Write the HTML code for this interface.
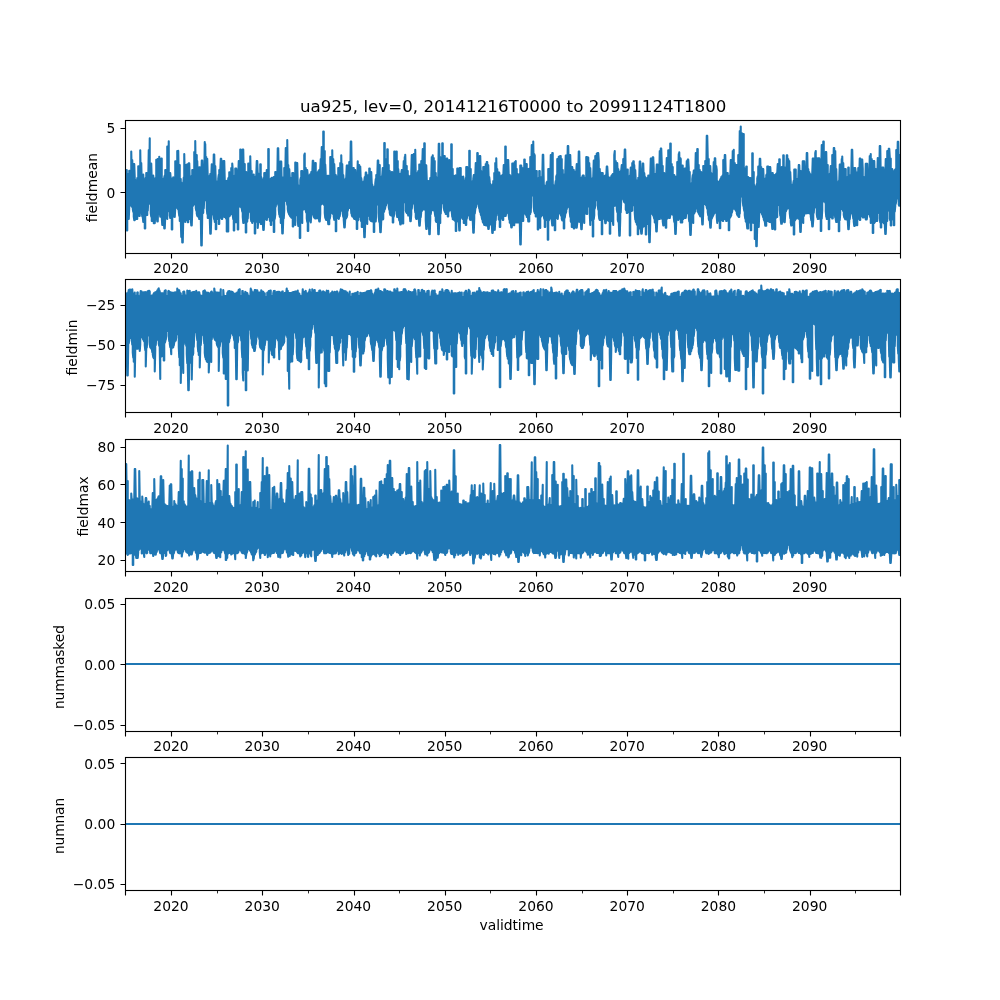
<!DOCTYPE html>
<html lang="en"><head><meta charset="utf-8"><title>ua925 field statistics</title>
<style>
html,body{margin:0;padding:0;background:#fff;}
body{width:1000px;height:1000px;overflow:hidden;}
svg{display:block;will-change:transform;}
svg text{font-family:"DejaVu Sans","Liberation Sans",sans-serif;fill:#000;}
.t{font-size:13.89px;}
.ti{font-size:16.67px;}
.ax{fill:none;stroke:#000;stroke-width:1.111;stroke-linejoin:miter;}
.tk{stroke:#000;stroke-width:1.111;fill:none;}
.tkm{stroke:#000;stroke-width:0.833;fill:none;}
.ln{fill:none;stroke:#1f77b4;stroke-width:2.083;stroke-linejoin:round;stroke-linecap:butt;}
</style></head>
<body>
<svg width="1000" height="1000" viewBox="0 0 1000 1000">
<rect width="1000" height="1000" fill="#fff"/>
<defs>
<clipPath id="c0"><rect x="125" y="120" width="775" height="132.76"/></clipPath>
<clipPath id="c1"><rect x="125" y="279.31" width="775" height="132.76"/></clipPath>
<clipPath id="c2"><rect x="125" y="438.62" width="775" height="132.76"/></clipPath>
<clipPath id="c3"><rect x="125" y="597.93" width="775" height="132.76"/></clipPath>
<clipPath id="c4"><rect x="125" y="757.24" width="775" height="132.76"/></clipPath>
</defs>
<g id="ax0">
<path class="ln" clip-path="url(#c0)" d="M125 218.26V173.7L125.75 173.68V217.74L126.25 218.33V173.89L126.75 170.04V230.46L127.25 230.46V173.97L127.75 174.09V217.54L128.25 217.25V174.66L128.75 174.88V218.96L129.25 207.58V170.84L129.75 170.84V205.79L130.25 204.77V175.45L130.75 175.69V205.57L131.25 205.68V151.54L131.75 175.71V205.77L132.25 207.28V160.04L132.75 176.69V208.73L133.25 211.83V176.47L133.75 164.04V216.5L134.25 220.16V164.04L134.75 177.72V220.16L135.25 216.22V179.88L135.75 181.35V215.67L136.25 218.96V181.65L136.75 181.11V218.96L137.25 218.96V178.03L137.75 178.98V215.39L138.25 215.22V166.24L138.75 166.24V215.15L139.25 215.96V180.27L139.75 180.67V215.96L140.25 203.7V150.24L140.75 182.46V204.69L141.25 206.62V163.04L141.75 182.76V211.33L142.25 216.37V183.29L142.75 184.63V216.56L143.25 221.96V174.54L143.75 185.14V215.64L144.25 215.92V185.79L144.75 185.13V228.46L145.25 228.46V179.94L145.75 177.79V215.15L146.25 215.28V173.04L146.75 173.04V214.47L147.25 214.96V178.39L147.75 178.98V210.79L148.25 201.55V178.72L148.75 150.04V195.28L149.25 195.37V179.43L149.75 138.24V195.72L150.25 204.16V180.29L150.75 180.12V213.06L151.25 216.51V163.54L151.75 180.54V220.96L152.25 220.96V180.89L152.75 181.96V216.84L153.25 216.63V175.54L153.75 181.54V223.16L154.25 223.16V181.39L154.75 181.12V223.16L155.25 215.89V178.48L155.75 177.76V216.33L156.25 215.76V159.84L156.75 159.84V216.46L157.25 221.46V178.32L157.75 159.04V221.46L158.25 200.74V177.96L158.75 178.12V201.09L159.25 204.77V156.84L159.75 178.47V211.85L160.25 216.75V178.69L160.75 178.68V216.57L161.25 216.85V158.54L161.75 158.54V216.93L162.25 224.96V178.97L162.75 179.59V224.96L163.25 216.12V179.02L163.75 178.97V216.75L164.25 228.46V177.3L164.75 175.64V228.46L165.25 216.75V170.04L165.75 170.04V216.61L166.25 216.69V176.37L166.75 176.94V215.26L167.25 218.96V146.54L167.75 178.12V210.18L168.25 209.41V178.11L168.75 141.24V210.49L169.25 211.37V178.7L169.75 178.76V215.58L170.25 218.05V173.04L170.75 179.09V217.65L171.25 218.07V179.81L171.75 179.19V229.46L172.25 229.46V178.71L172.75 178.05V217.05L173.25 216.2V177.2L173.75 177.59V215.75L174.25 212.28V178.52L174.75 178.41V216.96L175.25 208.48V161.24L175.75 161.24V207.97L176.25 207.14V178.63L176.75 179.57V206.99L177.25 207.29V151.04L177.75 179.79V208.53L178.25 209.5V150.74L178.75 180.23V211.69L179.25 216V180.14L179.75 165.04V220.96L180.25 218.76V181.07L180.75 179.04V218.52L181.25 236.96V182.42L181.75 185.95V218.8L182.25 242.46V186.15L182.75 186.19V242.46L183.25 218.73V183.93L183.75 177.6V218.07L184.25 218.16V154.04L184.75 177.66V212.04L185.25 221.96V178.58L185.75 165.04V212.75L186.25 214.11V178.99L186.75 178.62V218.54L187.25 220.56V164.24L187.75 178.6V222.16L188.25 222.16V179.31L188.75 163.24V219.21L189.25 219.08V163.24L189.75 179.89V218.7L190.25 218.24V180.32L190.75 179.91V217.71L191.25 225.46V178.12L191.75 175.76V225.46L192.25 210.68V170.04L192.75 170.04V206.2L193.25 204.7V175.93L193.75 176.43V204.24L194.25 203.79V152.04L194.75 176.65V204.28L195.25 204.87V141.04L195.75 176.97V208.01L196.25 210.55V177.26L196.75 155.04V213.44L197.25 215.83V161.04L197.75 177.79V216.44L198.25 216.24V177.9L198.75 178.71V215.91L199.25 218.96V167.24L199.75 167.24V218.96L200.25 214.46V179.82L200.75 178.69V214.41L201.25 245.46V178.73L201.75 160.54V245.46L202.25 213.76V160.54L202.75 178.34V213.3L203.25 212.71V178.9L203.75 178.27V208.36L204.25 198.88V178.55L204.75 142.04V196.61L205.25 196.98V144.04L205.75 179.18V197.04L206.25 200.57V157.04L206.75 177.95V208.06L207.25 213.83V158.84L207.75 178.04V217.96L208.25 217.96V178.11L208.75 178.07V217.54L209.25 217.8V177.04L209.75 175.74V217.9L210.25 233.76V174.04L210.75 177.11V233.76L211.25 218.31V176.67L211.75 164.24V214.88L212.25 211.06V179.11L212.75 178.31V210.24L213.25 210.71V178.58L213.75 154.54V216.56L214.25 219.63V154.54L214.75 180.34V221.96L215.25 219.66V166.04L215.75 181.24V229.16L216.25 229.16V181.42L216.75 182.17V219.17L217.25 218.86V181.59L217.75 181.57V218.71L218.25 218.48V178.56L218.75 174.87V223.96L219.25 223.96V170.04L219.75 172.88V217.86L220.25 217.72V171.38L220.75 158.84V217.45L221.25 216.75V158.84L221.75 169.75V218.96L222.25 218.96V161.04L222.75 168.88V206.17L223.25 206.9V168.14L223.75 161.04V211.64L224.25 216.96V161.04L224.75 179.69V216.96L225.25 216.51V181.03L225.75 181.39V217.87L226.25 218.62V181.14L226.75 180.99V231.46L227.25 231.46V180.67L227.75 180.39V231.46L228.25 231.46V178.66L228.75 177.5V216.87L229.25 215.21V172.24L229.75 172.24V215.95L230.25 214.09V176.85L230.75 176.93V214.43L231.25 213.06V168.04L231.75 176.38V212.87L232.25 212.74V163.54L232.75 170.04V215.26L233.25 219.17V175.93L233.75 176.1V230.46L234.25 230.46V176.02L234.75 175.65V222.18L235.25 221.46V168.54L235.75 168.54V222.17L236.25 222.11V168.54L236.75 175.2V221.64L237.25 220.91V175.36L237.75 175.56V229.46L238.25 229.46V175.07L238.75 161.04V207.06L239.25 206.39V175.68L239.75 174.89V205.74L240.25 205.67V149.54L240.75 149.54V206.55L241.25 207.69V175.75L241.75 175.18V208.58L242.25 211.5V174.84L242.75 149.54V216.88L243.25 222.96V149.54L243.75 174.48V222.96L244.25 219.61V174.37L244.75 164.04V219.55L245.25 220.74V174.41L245.75 174.53V232.46L246.25 232.46V172.04L246.75 174.96V221.98L247.25 221.39V174.77L247.75 175.15V218.68L248.25 209.25V163.54L248.75 163.54V206.86L249.25 205.95V176.76L249.75 176.66V206.7L250.25 212.45V156.24L250.75 178.24V217.8L251.25 221.04V178.24L251.75 171.04V220.81L252.25 222.96V179.97L252.75 179.54V221.12L253.25 220.86V180.09L253.75 174.54V221.26L254.25 220.63V181.13L254.75 180.56V233.46L255.25 233.46V179.98L255.75 176.58V221.06L256.25 221.68V176.1L256.75 161.04V221.3L257.25 221.48V161.04L257.75 174.5V227.96L258.25 220.67V173.85L258.75 173.72V221.26L259.25 221.94V174.39L259.75 174.82V222.03L260.25 222.03V164.24L260.75 164.24V223.96L261.25 223.96V177.04L261.75 181.7V219.99L262.25 220.69V182.82L262.75 182.96V221.08L263.25 229.96V182.05L263.75 178.02V229.96L264.25 219.69V173.04L264.75 173.04V219.53L265.25 219.19V173.04L265.75 177.98V218.71L266.25 218.92V178.69L266.75 170.04V219.96L267.25 217.48V179.27L267.75 178.62V215.95L268.25 215.5V149.04L268.75 149.04V216.3L269.25 217.39V178.88L269.75 179.46V219.85L270.25 221.52V179.29L270.75 179V224.96L271.25 224.96V178.24L271.75 177.84V220.74L272.25 220.16V177.91L272.75 179.48V220.09L273.25 219.93V178.96L273.75 177.04V231.96L274.25 231.96V179.57L274.75 180.27V218.76L275.25 214.56V172.04L275.75 172.04V206.58L276.25 201.52V181.66L276.75 182.65V200.76L277.25 200.18V182.19L277.75 148.24V200.84L278.25 204.81V148.24L278.75 184.36V209.43L279.25 214.71V184.45L279.75 184.32V216.85L280.25 216.3V161.54L280.75 161.54V222.96L281.25 216.89V161.54L281.75 186.37V216.95L282.25 233.46V186.25L282.75 180.85V233.46L283.25 218.12V177.35L283.75 177.44V218.41L284.25 210.32V168.04L284.75 178.12V201.42L285.25 200.35V177.19L285.75 148.04V200.03L286.25 199.92V177.05L286.75 177.45V200.14L287.25 204.87V140.04L287.75 177.46V209.19L288.25 212.14V165.04L288.75 177.5V213.47L289.25 214.4V169.04L289.75 177.08V215.11L290.25 216.19V177.73L290.75 177.99V216.56L291.25 217.38V178.16L291.75 178.48V217.82L292.25 218.26V173.04L292.75 173.04V226.46L293.25 226.46V173.04L293.75 180.99V219.24L294.25 220V181.05L294.75 182.42V220.38L295.25 224.96V162.54L295.75 162.54V211.93L296.25 211.12V183.01L296.75 163.04V212.24L297.25 215.58V163.04L297.75 185.04V220.56L298.25 225.96V185.27L298.75 186.33V221.37L299.25 221.64V186.23L299.75 185.76V237.96L300.25 237.96V179.9L300.75 177.92V220.18L301.25 219.56V171.04L301.75 171.04V218.56L302.25 222.96V171.04L302.75 177.16V209.89L303.25 209.63V177.03L303.75 176.45V209.12L304.25 208.49V155.04L304.75 153.54V208.67L305.25 209.39V176.92L305.75 168.04V210.82L306.25 212.67V176.05L306.75 176.08V218.42L307.25 221.75V170.04L307.75 175.86V230.96L308.25 230.96V175.72L308.75 175.62V220.94L309.25 220.59V175.43L309.75 175V219.86L310.25 219.21V174.2L310.75 174.13V222.46L311.25 215V172.04L311.75 174.53V213.9L312.25 213.74V174.36L312.75 160.84V214.18L313.25 214.78V160.84L313.75 174.16V216.37L314.25 217.75V173.46L314.75 174.3V217.45L315.25 218.46V163.04L315.75 163.04V218.46L316.25 218.27V173.92L316.75 173.51V218.22L317.25 217.47V172.71L317.75 172.47V218.25L318.25 218.12V171.51L318.75 170.95V218.1L319.25 221.46V169.94L319.75 169.9V221.46L320.25 214.13V168.53L320.75 159.04V204.99L321.25 203.45V167.24L321.75 147.04V204.13L322.25 203.15V166.51L322.75 165.13V203.42L323.25 203.12V131.54L323.75 131.54V203.83L324.25 205.21V164.2L324.75 151.04V212.91L325.25 217.88V164.54L325.75 175.9V218.82L326.25 219.96V176.14L326.75 176.13V219.96L327.25 218.55V176.78L327.75 175.78V218.59L328.25 224.16V175.69L328.75 176.14V224.16L329.25 224.16V175.97L329.75 176.12V218.84L330.25 216.14V157.04L330.75 157.04V213.63L331.25 212.81V177.43L331.75 176.86V212.62L332.25 212.79V150.24L332.75 177.16V212.9L333.25 214.39V159.04L333.75 178.1V216.86L334.25 219.83V164.04L334.75 177.9V219.22L335.25 219.67V178.68L335.75 175.04V231.16L336.25 231.16V178.86L336.75 178.53V218.26L337.25 217.2V176.9L337.75 176.1V217.71L338.25 217.16V168.04L338.75 168.04V218.96L339.25 216.64V168.04L339.75 178.19V216.22L340.25 210.95V163.04L340.75 179.82V210.24L341.25 209.37V155.34L341.75 180.63V210.11L342.25 210.95V164.04L342.75 182.33V213.49L343.25 216.78V175.04L343.75 182.87V219.83L344.25 227.46V183.81L344.75 183.02V227.46L345.25 218.79V181.4L345.75 178.63V218.61L346.25 218.22V177.45L346.75 165.54V217.31L347.25 215.05V165.54L347.75 165.54V210.94L348.25 208.08V176.88L348.75 177.49V207.58L349.25 207.92V162.04L349.75 176.96V202.62L350.25 202.16V176.96L350.75 141.54V203.06L351.25 213.08V141.54L351.75 176.93V215.01L352.25 216.4V175.83L352.75 175.84V216.57L353.25 217.05V168.04L353.75 168.04V217.76L354.25 218.96V176.15L354.75 170.04V218.96L355.25 218.77V170.04L355.75 181.24V218.98L356.25 219.97V180.99L356.75 180.77V228.96L357.25 228.96V178.1L357.75 161.24V220.57L358.25 219.87V177.96L358.75 178.56V216.68L359.25 216.25V165.04L359.75 179.02V216.38L360.25 216.95V166.54L360.75 180.17V219.74L361.25 221.41V178.04L361.75 182.21V226.96L362.25 226.96V183.15L362.75 183.57V222.04L363.25 221.65V184.09L363.75 181.44V221.59L364.25 237.16V181.66L364.75 177.04V237.16L365.25 221.6V182.37L365.75 172.54V221.08L366.25 221.19V172.54L366.75 182.25V220.68L367.25 223.96V181.92L367.75 182.54V214.24L368.25 213.27V175.04L368.75 182.25V213.36L369.25 216.1V168.54L369.75 168.54V219.57L370.25 219.79V183.19L370.75 182.76V220.85L371.25 221.14V172.04L371.75 183.47V220.71L372.25 221.31V184.59L372.75 188.26V221.38L373.25 221.3V188.75L373.75 188.88V231.96L374.25 231.96V188.35L374.75 186.28V221.34L375.25 221.44V183.4L375.75 179.01V221.4L376.25 212.63V175.04L376.75 177.31V198.79L377.25 198.2V177.46L377.75 160.54V198.31L378.25 205.03V160.54L378.75 178.45V217.15L379.25 222.01V178.27L379.75 165.04V221.64L380.25 232.16V178.1L380.75 177.63V232.16L381.25 220.75V177.41L381.75 176.34V219.1L382.25 219.51V175.54L382.75 168.04V219.52L383.25 218.96V174.97L383.75 175.62V212.17L384.25 210.88V143.04L384.75 143.04V209.38L385.25 207.61V174.17L385.75 159.04V205.8L386.25 204.57V174.39L386.75 174.27V202.82L387.25 202.26V149.24L387.75 149.24V202.17L388.25 203.01V173.92L388.75 165.04V207.08L389.25 209.93V173.24L389.75 171.04V212.84L390.25 215.04V173.39L390.75 172.64V214.96L391.25 215.56V172.94L391.75 172.04V215.25L392.25 215.35V172.04L392.75 173.1V222.46L393.25 222.46V174.22L393.75 173.61V216.56L394.25 213.2V151.54L394.75 151.54V208.5L395.25 208.26V173.73L395.75 173.97V208.75L396.25 210.83V151.54L396.75 151.54V214.39L397.25 216.96V174.3L397.75 161.04V216.96L398.25 216.17V169.04L398.75 174.94V217.02L399.25 220.29V174.94L399.75 174.25V219.58L400.25 224.46V174.2L400.75 173.6V224.46L401.25 219.51V173.65L401.75 170.04V219.19L402.25 219.14V170.04L402.75 173.68V223.46L403.25 223.46V173.74L403.75 161.04V197.55L404.25 196.85V174.23L404.75 157.04V197.48L405.25 202.71V154.84L405.75 174.37V210.38L406.25 212.33V174.92L406.75 166.04V213.04L407.25 213.29V175.22L407.75 171.04V212.84L408.25 215.46V175.2L408.75 176.15V215.46L409.25 213.28V178.04L409.75 178.82V213.58L410.25 221.16V178.3L410.75 175.69V221.16L411.25 214.54V173.44L411.75 155.04V208.97L412.25 204.02V155.04L412.75 155.04V202.77L413.25 202.7V174L413.75 154.04V203.25L414.25 203.77V174.59L414.75 174.4V207.24L415.25 212.39V149.84L415.75 174.69V217.14L416.25 218.96V175.13L416.75 174.89V218.96L417.25 217.12V174.6L417.75 172.67V218.13L418.25 218.45V171.19L418.75 170.65V218.01L419.25 225.66V164.54L419.75 164.54V225.66L420.25 218.58V168.03L420.75 167.68V217.19L421.25 211.99V161.04L421.75 161.04V211.23L422.25 209.24V165.24L422.75 149.04V208.83L423.25 209.37V164.18L423.75 163.76V208.79L424.25 209.37V143.24L424.75 143.24V209.62L425.25 209.41V176.64L425.75 165.24V220.55L426.25 228.96V165.24L426.75 179.5V228.96L427.25 220.09V180.8L427.75 180.8V219.14L428.25 219.39V181.22L428.75 182.2V219.26L429.25 234.16V181.26L429.75 180.45V234.16L430.25 219.07V178.04L430.75 180.09V214.09L431.25 210.21V179.93L431.75 157.04V210.42L432.25 209.99V179.26L432.75 155.24V209.59L433.25 209.82V179.1L433.75 158.04V210.43L434.25 210.8V178.75L434.75 161.04V212.48L435.25 216V178.84L435.75 173.04V220.7L436.25 221.96V178.15L436.75 177.77V220.16L437.25 219.49V178.01L437.75 177.28V219.32L438.25 234.16V176.73L438.75 143.84V234.16L439.25 219.27V143.84L439.75 175.66V218.45L440.25 222.96V157.04L440.75 175.26V213.72L441.25 203.52V174.65L441.75 174.03V202.33L442.25 201.61V143.24L442.75 143.24V202.25L443.25 203.79V173.15L443.75 172.47V207.39L444.25 210.32V156.04L444.75 156.04V211.56L445.25 212.66V171.33L445.75 171.24V213.96L446.25 213.96V172.03L446.75 158.54V212.49L447.25 212.87V158.54L447.75 172.31V216.46L448.25 216.46V172.82L448.75 173.33V211.58L449.25 208.81V160.04L449.75 173.47V207.8L450.25 208.89V174.03L450.75 174.18V209.63L451.25 211V144.24L451.75 144.24V211.73L452.25 216.87V175.03L452.75 169.04V219.18L453.25 218.88V175.74L453.75 176.07V219.66L454.25 219.55V175.98L454.75 176.33V220.42L455.25 220.95V175.67L455.75 175.34V230.96L456.25 230.96V175.23L456.75 175.45V219.75L457.25 218.97V168.54L457.75 168.54V219.09L458.25 221.52V168.54L458.75 176.45V220.56L459.25 230.46V176.78L459.75 168.04V230.46L460.25 208.73V168.04L460.75 168.04V208.53L461.25 209.23V176.64L461.75 177V215.75L462.25 218.32V177.28L462.75 176.96V218.88L463.25 218.92V176.54L463.75 190.66V222.96L464.25 222.96V190.36L464.75 189.79V218.33L465.25 217.88V182.57L465.75 178.11V224.96L466.25 224.96V167.04L466.75 167.04V218.69L467.25 216.12V167.04L467.75 178.78V211.79L468.25 211.65V178.74L468.75 179.29V212.07L469.25 215.51V150.74L469.75 150.74V218.72L470.25 219.96V179.87L470.75 169.04V216.96L471.25 216.13V181.91L471.75 182.67V217L472.25 220.41V182.98L472.75 180.98V219.63L473.25 232.66V178.84L473.75 175.04V232.66L474.25 218.76V176.63L474.75 177.22V213.59L475.25 209.52V176.55L475.75 163.04V207.97L476.25 206.15V176.07L476.75 176.04V203.71L477.25 203.27V153.04L477.75 153.04V203.64L478.25 203.83V175.67L478.75 175.79V205.39L479.25 208.49V175.29L479.75 156.04V210.93L480.25 212.54V156.04L480.75 174.67V214.08L481.25 215.55V171.04L481.75 174.46V217.56L482.25 219.7V174.81L482.75 175.24V221.81L483.25 222.54V167.04L483.75 167.04V222.82L484.25 224.96V167.04L484.75 176.59V224.96L485.25 222.87V177.6L485.75 164.04V222.58L486.25 225.46V178.58L486.75 162.04V225.46L487.25 222.94V162.04L487.75 180.3V222.78L488.25 228.96V165.04L488.75 181.11V228.96L489.25 221.49V177.04L489.75 181.77V221.24L490.25 221.77V183.79L490.75 185.57V224.51L491.25 223.86V186.47L491.75 186.37V222.61L492.25 232.96V186.14L492.75 184.26V232.96L493.25 222.4V181.04L493.75 182.72V222.32L494.25 222.25V173.04L494.75 181.49V229.96L495.25 220.8V163.04L495.75 180.85V220.09L496.25 208.97V158.34L496.75 179.7V206.65L497.25 206.73V169.04L497.75 178.81V206.89L498.25 215.41V178.83L498.75 172.54V219.46L499.25 219.89V172.54L499.75 177.18V226.96L500.25 226.96V176.81L500.75 176.59V218.75L501.25 217.71V176.48L501.75 175.54V217.39L502.25 216.95V175.54L502.75 176.93V219.96L503.25 219.96V176.65L503.75 165.04V216.06L504.25 215.79V176.49L504.75 176.45V214.74L505.25 215.96V146.54L505.75 146.54V215.96L506.25 211.59V176.27L506.75 176.7V210.81L507.25 211.67V160.04L507.75 160.04V211.93L508.25 213.73V160.04L508.75 176.25V215.3L509.25 219.67V176.33L509.75 175.04V222.8L510.25 222.35V176.15L510.75 176.16V222.67L511.25 227.46V176.11L511.75 176.67V227.46L512.25 222.61V163.54L512.75 163.54V222.35L513.25 222.24V163.54L513.75 176.36V225.16L514.25 225.16V176.66L514.75 162.04V222.84L515.25 222.4V176.53L515.75 161.04V222.56L516.25 222.58V176.64L516.75 169.04V222.58L517.25 222.44V177.03L517.75 174.04V221.98L518.25 221.87V176.72L518.75 176.44V222.45L519.25 221.76V175.48L519.75 174.08V221.32L520.25 244.46V165.54L520.75 165.54V244.46L521.25 219.48V165.54L521.75 170.64V219.72L522.25 218.86V168.04L522.75 170.3V220.96L523.25 220.96V168.46L523.75 167.88V213.96L524.25 213.16V159.54L524.75 159.54V212.55L525.25 213.67V167.19L525.75 164.04V214.72L526.25 214.02V164.04L526.75 164.04V216.96L527.25 216.96V168.74L527.75 169V214.08L528.25 221.46V170.07L528.75 169.01V221.46L529.25 221.46V168.78L529.75 168.63V213.94L530.25 213.98V157.04L530.75 157.04V212.31L531.25 200.33V169.39L531.75 145.04V190.98L532.25 190.7V169.59L532.75 169.94V190.93L533.25 195.92V141.54L533.75 170.7V206.84L534.25 211.53V154.04L534.75 155.54V213.01L535.25 213.57V171.94L535.75 174.97V216.46L536.25 216.46V171.04L536.75 171.04V213.36L537.25 214.37V180.31L537.75 180.26V229.46L538.25 229.46V179.68L538.75 177.8V215.24L539.25 215.46V171.04L539.75 171.04V215.91L540.25 227.96V178.1L540.75 177.11V216.48L541.25 216.5V178.14L541.75 179.12V215.39L542.25 213.65V180.49L542.75 154.74V213.81L543.25 214.61V154.74L543.75 183.57V215.84L544.25 218.95V185.34L544.75 186.79V226.96L545.25 226.96V187L545.75 186.43V218.94L546.25 219.83V186.17L546.75 182.19V219.44L547.25 219.63V181.58L547.75 182.31V239.66L548.25 239.66V169.04L548.75 169.04V220.41L549.25 219.57V169.04L549.75 183.39V217.15L550.25 216.69V184.27L550.75 155.04V217.07L551.25 218.76V184.15L551.75 184.24V220.11L552.25 225.46V153.04L552.75 153.04V225.46L553.25 219.11V184.97L553.75 187.68V219.33L554.25 218.27V186.73L554.75 186.87V230.26L555.25 230.26V185.04L555.75 180.94V218.21L556.25 217.68V176.6L556.75 175.18V217.02L557.25 216.71V159.04L557.75 159.04V218.96L558.25 213.55V175.13L558.75 156.84V212.82L559.25 212.44V156.84L559.75 174.87V213.13L560.25 213.42V156.04L560.75 156.04V214.39L561.25 215.99V174.62L561.75 159.04V218.9L562.25 220.41V174.97L562.75 170.04V219.34L563.25 219.68V174.84L563.75 175.28V228.46L564.25 228.46V174.79L564.75 174.35V217.94L565.25 214.45V172L565.75 155.54V213.04L566.25 211.62V155.54L566.75 171.73V209.01L567.25 205.99V171.22L567.75 146.04V205.55L568.25 204.86V146.04L568.75 171.43V205.6L569.25 207.81V171.41L569.75 155.04V211.85L570.25 216.8V155.04L570.75 172.27V221.23L571.25 222.15V172.57L571.75 167.04V226.96L572.25 226.96V167.04L572.75 171.74V222.56L573.25 222.57V171.62L573.75 170.04V228.46L574.25 228.46V172.34L574.75 171.59V222.68L575.25 222.83V171.79L575.75 171.89V222.79L576.25 227.76V172.14L576.75 164.04V227.76L577.25 222.94V173.34L577.75 174.8V221.55L578.25 221.2V174.87L578.75 151.54V221.13L579.25 221.78V151.54L579.75 176.45V221.42L580.25 219.8V177.47L580.75 178.25V220.27L581.25 229.26V178.87L581.75 178.13V229.26L582.25 218.34V176.91L582.75 175.54V217.49L583.25 217.07V175.54L583.75 175.54V215.94L584.25 222.96V177.49L584.75 178.16V214.02L585.25 213.24V178.32L585.75 179.4V212.9L586.25 213.11V157.04L586.75 157.04V213.96L587.25 213.96V179.04L587.75 157.54V204.28L588.25 202.86V157.54L588.75 179.68V203.47L589.25 206.86V163.04L589.75 179.62V212.64L590.25 224.96V168.04L590.75 180.98V219.96L591.25 220.23V181.64L591.75 181.32V219.57L592.25 219.15V181.42L592.75 177.98V236.46L593.25 236.46V176.81L593.75 160.54V219.21L594.25 215.16V175.91L594.75 176.18V208.55L595.25 205.35V156.04L595.75 156.04V200.2L596.25 199.24V175.35L596.75 153.54V200.04L597.25 200.48V153.54L597.75 153.04V205.34L598.25 209.51V153.04L598.75 161.04V214.2L599.25 218.94V172.83L599.75 169.04V219.96L600.25 219.96V172.26L600.75 173.41V218.82L601.25 218.94V173.62L601.75 173.04V234.26L602.25 234.26V173.04L602.75 173.04V218.53L603.25 218.71V176.29L603.75 177.2V218.62L604.25 218.38V176.68L604.75 175.88V218.37L605.25 223.26V175.55L605.75 176.33V223.26L606.25 217.47V176.28L606.75 166.54V218.95L607.25 218.54V166.54L607.75 175.04V220.41L608.25 220.62V177.46L608.75 177.34V220.95L609.25 220.69V177.7L609.75 177.99V233.76L610.25 233.76V178.87L610.75 178.22V219.74L611.25 220.75V176.54L611.75 175.45V220.96L612.25 220.54V175.43L612.75 174.04V220.83L613.25 224.96V174.04L613.75 174.62V206.2L614.25 205.89V155.04L614.75 151.04V204.56L615.25 203.38V174.72L615.75 161.04V205.39L616.25 205.94V174.29L616.75 173.94V209.22L617.25 211.95V163.04L617.75 173.73V219.75L618.25 221.85V169.04L618.75 173.69V221.26L619.25 235.76V173.86L619.75 172.76V235.76L620.25 219.09V172.28L620.75 171.13V212.53L621.25 199.9V170.39L621.75 165.04V198.35L622.25 197.9V165.04L622.75 167.4V198.5L623.25 199.18V159.04L623.75 164.47V200.56L624.25 202.17V164.78L624.75 149.54V202.56L625.25 203.03V149.54L625.75 174.09V209.49L626.25 210.46V175.05L626.75 176.24V212.96L627.25 212.96V169.54L627.75 169.54V212.35L628.25 212.26V179.54L628.75 179.17V212.31L629.25 211.54V178.12L629.75 175.78V235.46L630.25 235.46V175.94L630.75 167.54V210.73L631.25 210.84V167.54L631.75 177.38V210.96L632.25 210.68V163.04L632.75 177.93V204.34L633.25 203.55V161.24L633.75 161.24V204.31L634.25 205.77V165.04L634.75 179.17V213.18L635.25 219.75V170.04L635.75 180.39V221.74L636.25 222.32V180.3L636.75 181.42V223.99L637.25 224.98V180.78L637.75 180.24V234.16L638.25 234.16V177.83L638.75 178.85V227.03L639.25 228.32V177.85L639.75 161.54V228.03L640.25 228.66V161.54L640.75 177.57V228.15L641.25 233.76V177.88L641.75 177.91V233.76L642.25 227.2V178.14L642.75 163.54V227.19L643.25 226.57V163.54L643.75 178.25V225.69L644.25 226.26V173.04L644.75 178.74V225.24L645.25 225.54V177.04L645.75 178.71V234.46L646.25 234.46V179.37L646.75 178.86V224.27L647.25 223.87V178.5L647.75 177.47V222.78L648.25 222.76V175.54L648.75 175.54V222L649.25 242.16V177.17L649.75 177.33V242.16L650.25 221.38V176.56L650.75 158.54V214.09L651.25 213.55V158.54L651.75 176.55V212.87L652.25 213.9V176.55L652.75 157.24V214.13L653.25 215.69V157.24L653.75 169.04V216.63L654.25 218.87V177.16L654.75 174.04V222.42L655.25 221.81V177.08L655.75 177.26V221.3L656.25 231.46V176.44L656.75 164.54V231.46L657.25 219.65V164.54L657.75 164.54V219.5L658.25 218.55V175.92L658.75 176.25V218.43L659.25 218.96V176.47L659.75 151.04V218.96L660.25 216V175.36L660.75 148.54V216.37L661.25 217.39V148.54L661.75 163.04V217.7L662.25 219.03V175.66L662.75 166.04V221.53L663.25 225.46V175.18L663.75 174.39V225.46L664.25 221.07V173.04L664.75 175.19V220.79L665.25 219.42V174.38L665.75 174.5V227.76L666.25 227.76V174.4L666.75 158.04V218.36L667.25 218.54V175.97L667.75 175.04V217.18L668.25 217.35V150.24L668.75 150.24V217.15L669.25 217.96V176.02L669.75 176.55V217.96L670.25 215.44V143.54L670.75 143.54V213.98L671.25 214.09V176.19L671.75 164.04V213.76L672.25 214.13V175.99L672.75 167.04V214.38L673.25 215.08V176.57L673.75 177.41V217.09L674.25 221.97V175.04L674.75 177.51V220.64L675.25 233.96V177.13L675.75 177.79V233.96L676.25 220.63V176.65L676.75 176.77V219.95L677.25 219.68V162.04L677.75 162.04V219.29L678.25 219.96V176.71L678.75 154.04V218.64L679.25 218.77V152.34L679.75 177.01V218.67L680.25 218.92V158.04L680.75 159.04V222.46L681.25 222.46V176.57L681.75 176.9V222.46L682.25 222.46V165.54L682.75 165.54V218.58L683.25 218.92V176.66L683.75 176.89V218.38L684.25 217.33V177.29L684.75 168.54V215.81L685.25 217.96V168.54L685.75 168.54V217.96L686.25 213.43V178.69L686.75 161.04V212.34L687.25 211.41V179.31L687.75 159.54V211.66L688.25 213.68V159.54L688.75 168.04V217.66L689.25 221.41V180.92L689.75 172.04V221.09L690.25 234.96V188.37L690.75 188.19V234.96L691.25 220.95V187.07L691.75 183.16V220.25L692.25 219.72V179.19L692.75 175.07V218.81L693.25 222.96V176.38L693.75 170.54V213.16L694.25 213.32V170.54L694.75 170.54V211.98L695.25 211.65V174.68L695.75 153.04V208.44L696.25 207.82V174.14L696.75 173.86V208.37L697.25 208.91V149.04L697.75 149.04V211.07L698.25 212.5V173.82L698.75 165.04V213.66L699.25 214.22V173.24L699.75 170.04V215.21L700.25 216.3V172.93L700.75 173.43V215.62L701.25 215.34V172.04L701.75 173.22V214.92L702.25 224.46V173.65L702.75 173.28V224.46L703.25 210.1V166.04L703.75 166.04V204.41L704.25 203.77V166.04L704.75 174.07V203.7L705.25 204.11V161.04L705.75 174.9V204.32L706.25 205.64V175.08L706.75 135.84V207.36L707.25 208.9V135.84L707.75 158.04V211.99L708.25 215.39V175.85L708.75 159.04V218.99L709.25 220.41V176.18L709.75 176.69V219.58L710.25 227.66V166.04L710.75 177.49V227.66L711.25 218.17V173.04L711.75 178.17V218.46L712.25 217.39V178.26L712.75 178.06V216.27L713.25 215.44V176.84L713.75 162.04V214.01L714.25 213.39V176.96L714.75 158.24V211.19L715.25 210.4V158.24L715.75 178.29V212.05L716.25 212.91V166.04L716.75 170.04V216.96L717.25 222.96V180.93L717.75 182.4V220.54L718.25 220.7V182.68L718.75 182.94V220.61L719.25 220.29V182.13L719.75 180.84V228.16L720.25 228.16V179.36L720.75 178.83V220.48L721.25 219.62V177.04L721.75 177.34V218.74L722.25 217.31V176.18L722.75 175.25V220.96L723.25 220.96V160.04L723.75 160.04V214.33L724.25 213.72V173.48L724.75 155.04V218.96L725.25 214.8V155.04L725.75 174.57V218.15L726.25 220.96V175L726.75 176.89V220.96L727.25 218.71V173.04L727.75 173.04V218.89L728.25 218.95V180.34L728.75 179.88V230.16L729.25 230.16V178.88L729.75 175.6V217.8L730.25 217.45V175.72L730.75 160.04V216.32L731.25 215.31V160.04L731.75 160.04V212.99L732.25 211.02V175.37L732.75 151.04V209.35L733.25 208.48V176.45L733.75 149.74V207.44L734.25 208.32V176.02L734.75 163.04V207.88L735.25 209.59V176.25L735.75 176V209.3L736.25 211.3V165.04L736.75 165.04V213.31L737.25 215.05V176.27L737.75 176.08V215.67L738.25 215.12V155.04L738.75 155.04V216.96L739.25 216.96V176.24L739.75 131.04V213.76L740.25 201.9V176.72L740.75 126.54V196.81L741.25 195.5V177.55L741.75 133.04V195.3L742.25 195.87V176.48L742.75 177.34V200.42L743.25 205.78V134.04L743.75 134.04V208.09L744.25 210.8V168.04L744.75 177.34V215.12L745.25 218.54V178.22L745.75 177.12V221.6L746.25 222.07V166.54L746.75 166.54V222.96L747.25 228.46V176.99L747.75 177.04V228.46L748.25 228.46V177.16L748.75 178.06V222.42L749.25 222.33V178.04L749.75 178.04V222.24L750.25 222.4V178.07L750.75 178.17V230.16L751.25 230.16V178.91L751.75 180.03V222.86L752.25 222.77V153.24L752.75 153.24V222.48L753.25 222.36V183.1L753.75 172.04V222.95L754.25 222.77V185.06L754.75 188.96V238.96L755.25 221.99V189.5L755.75 189.6V222.28L756.25 246.16V188.78L756.75 183.99V246.16L757.25 222.43V178.39L757.75 176.2V222.83L758.25 222.85V166.54L758.75 166.54V226.96L759.25 212.72V176.56L759.75 158.84V212.28L760.25 211.21V158.84L760.75 177.95V211.9L761.25 211.79V167.04L761.75 177.93V213.27L762.25 214.67V169.04L762.75 169.04V215.74L763.25 217.4V169.04L763.75 181.53V219.28L764.25 220.74V182.83L764.75 183.06V220.9L765.25 225.66V182.88L765.75 178.2V225.66L766.25 225.66V175.2L766.75 174.31V220.02L767.25 220.29V166.54L767.75 166.54V220.88L768.25 220.55V166.54L768.75 174.2V220.4L769.25 221.96V167.04L769.75 167.04V221.96L770.25 219.27V167.04L770.75 175.08V219.72L771.25 222.42V174.98L771.75 175.05V221.54L772.25 228.96V173.04L772.75 173.04V228.96L773.25 220.51V175.86L773.75 175.36V219.98L774.25 219.18V175.04L774.75 175.71V229.46L775.25 229.46V175.66L775.75 174.61V218.2L776.25 214.53V173.73L776.75 173.36V210.5L777.25 216.96V172.85L777.75 164.04V205.43L778.25 204.64V164.04L778.75 171.28V204.53L779.25 204.54V159.34L779.75 159.34V209.65L780.25 215.6V170.23L780.75 169.75V219.54L781.25 223.76V169.32L781.75 167.04V223.76L782.25 220.35V168.26L782.75 167.77V220.05L783.25 218.93V155.34L783.75 155.34V218.45L784.25 222.16V167.51L784.75 167.58V222.16L785.25 213.22V168.13L785.75 169.4V211.7L786.25 210.42V171.48L786.75 155.34V209.27L787.25 208.18V155.34L787.75 174.33V207.45L788.25 206.68V159.04L788.75 176.69V207.35L789.25 208.97V161.04L789.75 178.94V213.08L790.25 218.19V172.04L790.75 181.98V222.5L791.25 225.46V184.45L791.75 186.23V225.46L792.25 221.57V186.44L792.75 186.3V221.49L793.25 221.08V183.49L793.75 180.79V234.46L794.25 234.46V169.54L794.75 169.54V220.65L795.25 219.99V169.54L795.75 169.54V219.13L796.25 217.86V180.15L796.75 180.43V217.7L797.25 217.41V178.89L797.75 178.95V217.6L798.25 218.67V178.79L798.75 165.04V218.78L799.25 218.34V165.04L799.75 178.41V218.29L800.25 231.96V177.87L800.75 171.04V231.96L801.25 218.94V183.41L801.75 182.48V218.75L802.25 218.93V182.35L802.75 161.24V218.77L803.25 222.96V161.24L803.75 161.24V216.13L804.25 214.6V161.24L804.75 177.45V214.02L805.25 212.49V177.12L805.75 176.95V213.29L806.25 212.99V177.17L806.75 153.04V213.34L807.25 213.16V153.04L807.75 176.8V212.55L808.25 212.88V169.04L808.75 176.67V212.98L809.25 213.3V172.04L809.75 176.62V213.52L810.25 213.41V174.04L810.75 177.33V216.4L811.25 220.22V176.68L811.75 174.97V220.07L812.25 226.46V173.43L812.75 158.54V226.46L813.25 219.32V158.54L813.75 158.54V212.84L814.25 205.87V172.09L814.75 171.57V205.26L815.25 204.64V153.04L815.75 151.04V204.78L816.25 207.86V170.34L816.75 158.04V214.06L817.25 217.33V169.35L817.75 169.13V218.96L818.25 218.96V158.24L818.75 158.24V218.77L819.25 218.46V158.24L819.75 168.05V218.42L820.25 218.88V167.93L820.75 167.04V230.96L821.25 230.96V166.46L821.75 145.04V218.68L822.25 210V165.39L822.75 164.82V201.87L823.25 200.98V141.54L823.75 141.54V200.67L824.25 200.06V163.12L824.75 166.53V200.63L825.25 202.8V168.18L825.75 152.04V211.26L826.25 216.94V152.04L826.75 173.72V218.95L827.25 218.91V174.54L827.75 165.04V218.64L828.25 217.97V176.51L828.75 176.44V229.16L829.25 229.16V175.66L829.75 173.87V217.26L830.25 216.53V174.52L830.75 166.04V216.36L831.25 217.15V166.04L831.75 176.66V216.1L832.25 218.46V155.04L832.75 177.86V218.46L833.25 205.2V179.27L833.75 148.04V205.72L834.25 206.88V148.04L834.75 180.48V213.92L835.25 217.7V151.04L835.75 182.27V219.23L836.25 221.96V169.04L836.75 186.78V221.96L837.25 219.19V187.58L837.75 186.93V219.95L838.25 220.22V186.16L838.75 181.04V231.16L839.25 231.16V180.68L839.75 164.54V220.11L840.25 213.15V164.54L840.75 180.17V209.3L841.25 208.14V179.94L841.75 159.04V208.29L842.25 208.8V156.54L842.75 179.2V209.6L843.25 211.17V163.04L843.75 179.53V214.7L844.25 217.39V179.03L844.75 169.04V218.34L845.25 219.23V169.04L845.75 169.04V218.96L846.25 219.45V177.7L846.75 177.65V219.17L847.25 218.89V177.25L847.75 176.85V220.19L848.25 229.16V167.54L848.75 167.54V229.16L849.25 220.41V175.76L849.75 175.54V219.12L850.25 214.4V175.19L850.75 175.12V213.47L851.25 213.23V175.06L851.75 149.74V212.53L852.25 212.56V149.74L852.75 174.39V213.85L853.25 218.67V173.89L853.75 173.47V221.66L854.25 225.96V168.04L854.75 168.04V225.96L855.25 221.1V168.04L855.75 172.76V220.67L856.25 220.1V172.46L856.75 172.61V225.16L857.25 225.16V173.31L857.75 174.59V219.15L858.25 218.47V168.04L858.75 175.48V218.02L859.25 217.32V176.13L859.75 158.54V219.96L860.25 219.96V158.54L860.75 178.58V208.2L861.25 211.24V179.44L861.75 159.54V216L862.25 216.31V159.54L862.75 169.04V217.46L863.25 217.46V181.49L863.75 177.04V217.46L864.25 216.44V184.84L864.75 184.75V216.78L865.25 216.65V184.89L865.75 163.84V219.46L866.25 219.46V163.84L866.75 163.84V219.46L867.25 215.48V163.84L867.75 180.4V213.77L868.25 213.98V180.44L868.75 180.13V213.1L869.25 213.32V180.08L869.75 156.04V214.46L870.25 217.04V179.36L870.75 154.04V222.96L871.25 222.11V179.03L871.75 159.04V222L872.25 222.58V178.54L872.75 178.98V232.96L873.25 232.96V161.04L873.75 161.04V222.55L874.25 222.85V161.04L874.75 177.78V222.27L875.25 221.15V177.73L875.75 169.04V219.99L876.25 219.88V178.85L876.75 178.72V220.96L877.25 220.96V178.26L877.75 158.04V210.87L878.25 209.98V175.7L878.75 175.44V211.15L879.25 213.31V176.11L879.75 146.04V218.48L880.25 222.33V146.04L880.75 176.17V227.46L881.25 227.46V176.25L881.75 176.08V222.12L882.25 221.85V167.54L882.75 167.54V221.5L883.25 222.08V167.54L883.75 177.37V223.32L884.25 223.43V176.98L884.75 176.48V222.83L885.25 233.96V176.38L885.75 159.04V233.96L886.25 220.64V175.57L886.75 175.58V220.18L887.25 220.96V151.04L887.75 175.05V204.8L888.25 204.59V174.78L888.75 148.74V204.74L889.25 210.8V148.74L889.75 157.04V218.75L890.25 220.44V174.17L890.75 158.54V225.46L891.25 225.46V173.09L891.75 172.71V218.76L892.25 218.27V169.04L892.75 173.01V218.97L893.25 219.75V174.33L893.75 173.12V225.16L894.25 225.16V172.5L894.75 170.04V211.69L895.25 206.29V169.58L895.75 168.92V203.73L896.25 201.1V150.04L896.75 167.91V197.33L897.25 197.42V166.46L897.75 141.84V197.65L898.25 198.74V141.84L898.75 164.15V204.56L899.25 205.78V163.35L900 155.04V205.96"/>
<path class="tk" d="M125.5 253.5v5M171.5 253.5v5M262.5 253.5v5M354.5 253.5v5M445.5 253.5v5M536.5 253.5v5M627.5 253.5v5M718.5 253.5v5M810.5 253.5v5M900.5 253.5v5M125.5 128.5h-5M125.5 192.5h-5"/>
<path class="tkm" d="M217.5 253.5v2.92M308.5 253.5v2.92M399.5 253.5v2.92M490.5 253.5v2.92M582.5 253.5v2.92M673.5 253.5v2.92M764.5 253.5v2.92M855.5 253.5v2.92"/>
<text class="t" text-anchor="middle" x="171.03" y="273">2020</text>
<text class="t" text-anchor="middle" x="262.26" y="273">2030</text>
<text class="t" text-anchor="middle" x="353.5" y="273">2040</text>
<text class="t" text-anchor="middle" x="444.74" y="273">2050</text>
<text class="t" text-anchor="middle" x="535.98" y="273">2060</text>
<text class="t" text-anchor="middle" x="627.22" y="273">2070</text>
<text class="t" text-anchor="middle" x="718.46" y="273">2080</text>
<text class="t" text-anchor="middle" x="809.7" y="273">2090</text>
<text class="t" text-anchor="end" x="115.28" y="133">5</text>
<text class="t" text-anchor="end" x="115.28" y="198">0</text>
<text class="t" text-anchor="middle" transform="translate(96.6 187.62) rotate(-90)">fieldmean</text>
<rect class="ax" x="125.5" y="120.5" width="775" height="133"/>
</g>
<g id="ax1">
<path class="ln" clip-path="url(#c1)" d="M125 356.06V293.35L125.75 293.25V354.87L126.25 351.85V293.59L126.75 293.47V351.26L127.25 375.46V293.15L127.75 293.02V375.46L128.25 344.84V292.87L128.75 289.99V343.38L129.25 340.46V289.82L129.75 289.65V338.34L130.25 337V289.48L130.75 290.36V336.18L131.25 335.71V290.17L131.75 289.97V338.34L132.25 344.73V289.19L132.75 295.51V352.44L133.25 357.71V295.51L133.75 295.51V361.71L134.25 356.84V295.51L134.75 292.65V376.76L135.25 351.07V295.57L135.75 295.57V348.98L136.25 348.54V295.57L136.75 295.57V348.79L137.25 348.81V292.7L137.75 292.33V348.8L138.25 348.41V295.76L138.75 296.8V347.44L139.25 345.63V296.8L139.75 296.8V350.96L140.25 344.34V295.69L140.75 290.95V337.27L141.25 335.9V291.77L141.75 291.58V335.42L142.25 335.76V294.06L142.75 293.78V338.61L143.25 339.66V293.7L143.75 292.45V340.77L144.25 341.53V292.35L144.75 292.23V345.04L145.25 350.03V292.11L145.75 292.54V366.46L146.25 348.8V292.4L146.75 292.25V347.63L147.25 341.77V291.88L147.75 291.27V335.05L148.25 334.91V291.1L148.75 290.92V335.51L149.25 335.63V290.74L149.75 291.8V344.26L150.25 347.34V295.98L150.75 295.98V347.16L151.25 348.62V295.98L151.75 295.5V348.47L152.25 352.16V295.5L152.75 295.5V354.01L153.25 357.14V295.5L153.75 293.39V358.27L154.25 355.49V293.27L154.75 293.13V371.46L155.25 350.64V292.33L155.75 292.19V345.27L156.25 337.61V292.03L156.75 291.86V335.47L157.25 335.75V290.41L157.75 290.23V336.18L158.25 340.45V289.19L158.75 288.44V343.77L159.25 346V290.2L159.75 291.68V349.53L160.25 378.96V292.9L160.75 293.55V353.01L161.25 354.43V293.46L161.75 293.36V356.45L162.25 354.85V293.23L162.75 293.6V352.92L163.25 350.48V293.45L163.75 293.28V360.46L164.25 360.46V293.1L164.75 290.72V343.02L165.25 341.34V290.52L165.75 290.31V339.98L166.25 335.34V295.76L166.75 295.76V331.04L167.25 330.39V295.76L167.75 295.76V329.67L168.25 331.21V291.08L168.75 290.82V336.7L169.25 341.16V293.87L169.75 292.26V343.51L170.25 347.02V292.22L170.75 292.18V346.72L171.25 354.16V292.98L171.75 292.92V347.8L172.25 347.14V292.86L172.75 292.79V347.61L173.25 347.36V293.75L173.75 293.67V345.71L174.25 342.3V292.59L174.75 292.51V341.42L175.25 340.48V292.41L175.75 292.32V340.47L176.25 337.4V292.87L176.75 292.86V332.92L177.25 332.53V288.44L177.75 292.64V332.43L178.25 334.7V292.52L178.75 290.34V346.91L179.25 357.42V290.27L179.75 293.54V365.21L180.25 363.11V293.44L180.75 293.32V382.96L181.25 359.43V295.48L181.75 295.48V356.79L182.25 354.82V295.48L182.75 295.48V351.84L183.25 372.96V291.97L183.75 291.62V344.3L184.25 339.96V291.43L184.75 295.59V339.29L185.25 339.74V295.59L185.75 295.59V340.52L186.25 345.89V295.59L186.75 295.59V353.93L187.25 363.16V290.55L187.75 293.41V363.6L188.25 390.16V292.33L188.75 291.04V390.16L189.25 362.56V290.93L189.75 290.81V362.94L190.25 361.96V293.14L190.75 292.99V360.03L191.25 357.58V292.83L191.75 292.53V379.46L192.25 355.35V292.35L192.75 292.16V355.11L193.25 353.28V292.22L193.75 292.01V346.91L194.25 334.37V291.79L194.75 296.67V330.62L195.25 329.84V296.67L195.75 296.67V330.53L196.25 332.75V290.86L196.75 293.85V335.01L197.25 340.03V293.8L197.75 292.5V346.17L198.25 351.78V292.4L198.75 292.29V354.92L199.25 352.93V292.17L199.75 295.63V367.46L200.25 348.76V295.63L200.75 295.63V345.12L201.25 339.1V295.82L201.75 295.82V335.3L202.25 332.4V295.82L202.75 295.82V330.81L203.25 332.02V291.1L203.75 290.89V334.24L204.25 343.55V290.68L204.75 290.45V352.83L205.25 357.13V291.38L205.75 294.08V358.91L206.25 359.7V292.59L206.75 292.96V361.24L207.25 361.87V292.9L207.75 292.82V361.71L208.25 361.07V292.73L208.75 293.37V372.46L209.25 361.32V295.78L209.75 295.78V360.13L210.25 357.46V295.78L210.75 292.67V354.08L211.25 361.96V291.76L211.75 291.62V339.5L212.25 333.39V292.85L212.75 296.5V331.2L213.25 333.08V296.5L213.75 296.5V335.64L214.25 337.98V288.44L214.75 292.04V339.38L215.25 340.01V294.16L215.75 292.2V338.69L216.25 341.06V292.92L216.75 292.8V343.49L217.25 345.42V292.66L217.75 292.96V346.38L218.25 347.11V292.79L218.75 292.61V370.96L219.25 347.35V296.06L219.75 296.06V346.29L220.25 342.03V296.06L220.75 289.19V338.76L221.25 338.04V296.45L221.75 296.45V337.81L222.25 341.55V296.45L222.75 296.45V352.83L223.25 357.52V289.99L223.75 295.95V373.46L224.25 373.46V295.95L224.75 295.95V357.62L225.25 355.48V296.02L225.75 296.02V378.96L226.25 378.96V296.02L226.75 296.02V350.39L227.25 348.55V293.2L227.75 292.24V405.46L228.25 405.46V291.38L228.75 291.3V342.73L229.25 341V291.22L229.75 291.14V338.67L230.25 336.28V293.08L230.75 292.99V333.48L231.25 333.03V292.9L231.75 291.61V332.13L232.25 332.86V293.05L232.75 292.19V334.58L233.25 335.55V293.39L233.75 293.33V336.8L234.25 340.26V296.68L234.75 296.68V347.94L235.25 347.19V296.68L235.75 293.48V345.89L236.25 379.16V293.33L236.75 293.17V379.16L237.25 343.14V292.43L237.75 292.25V342.7L238.25 339.34V292.06L238.75 289.7V335.74L239.25 332.6V289.5L239.75 289.28V332.26L240.25 331.62V295.9L240.75 295.9V333.55L241.25 340.64V295.9L241.75 295.9V347.87L242.25 357.53V290.99L242.75 290.95V372.2L243.25 380.46V293.87L243.75 293.79V370.2L244.25 366.62V293.69L244.75 293.59V364.38L245.25 361.61V291.75L245.75 293.12V390.16L246.25 390.16V292.98L246.75 292.83V354.09L247.25 349.94V293L247.75 295.56V370.46L248.25 339.44V295.56L248.75 297.02V330.12L249.25 327.92V297.02L249.75 297.02V327.97L250.25 328.88V297.02L250.75 288.44V333.19L251.25 338.9V289.68L251.75 292.28V343.19L252.25 345.57V292.25L252.75 292.22V347.58L253.25 348.04V293.38L253.75 293.33V347.92L254.25 350.96V293.27L254.75 290.07V350.96L255.25 347.65V290L255.75 290.54V344.35L256.25 340.52V290.46L256.75 290.38V337.41L257.25 332.95V290.3L257.75 292.97V333.1L258.25 333.9V292.88L258.75 292.79V333.69L259.25 338.8V292.55L259.75 292.45V344.28L260.25 347.41V292.35L260.75 293.59V347.31L261.25 348.7V290.32L261.75 291.98V349.14L262.25 349.55V291.91L262.75 291.83V374.46L263.25 349.95V291.74L263.75 293.62V350.21L264.25 347.48V293.52L264.75 293.41V345.46L265.25 341.64V296.72L265.75 296.72V339.28L266.25 339.46V296.72L266.75 296.72V339.2L267.25 339.56V292.67L267.75 292.52V339.83L268.25 339.71V292.37L268.75 291.18V362.46L269.25 340.31V291.02L269.75 292.91V339.64L270.25 340.38V290.64L270.75 290.59V344.34L271.25 350.91V295.89L271.75 295.89V353.56L272.25 354.96V295.89L272.75 295.89V354.97L273.25 354.49V293.18L273.75 291.14V357.46L274.25 357.46V291.02L274.75 290.89V347.69L275.25 339.07V292.96L275.75 292.82V338.29L276.25 338.06V292.68L276.75 292.04V337.97L277.25 338.67V292.09L277.75 291.93V338.75L278.25 340.8V291.76L278.75 293.72V341.48L279.25 359.16V291.78L279.75 294V346.78L280.25 348.64V293.95L280.75 292.69V349.26L281.25 346.99V292.62L281.75 292.55V346.14L282.25 344.38V291.5L282.75 291.41V344.88L283.25 343.97V296.7L283.75 296.7V343.06L284.25 341.71V296.7L284.75 293.04V336.03L285.25 329.49V292.93L285.75 292.81V329.37L286.25 328.99V292.69L286.75 288.44V332.82L287.25 337.03V290.94L287.75 290.81V370.96L288.25 366.73V292.67L288.75 293.01V365.43L289.25 388.76V292.93L289.75 293.71V362.79L290.25 360.74V293.13L290.75 293.01V359.22L291.25 361.46V292.88L291.75 292.74V361.46L292.25 361.46V292.45L292.75 292.29V354.75L293.25 345.56V292.12L293.75 292.13V332.81L294.25 331.54V291.94L294.75 291.75V331.77L295.25 331.15V291.55L295.75 291.76V330.43L296.25 338.08V291.55L296.75 291.33V351.85L297.25 358.45V293.97L297.75 290.56V359.96L298.25 359.96V293.61L298.75 293.54V359.77L299.25 360.96V293.45L299.75 295.68V359.02L300.25 360.02V296L300.75 296V362.16L301.25 360.41V296.99L301.75 296.99V350.05L302.25 339.9V296.99L302.75 289.22V337.96L303.25 336.61V292.13L303.75 291.98V336.11L304.25 334.33V291.81L304.75 291.64V335.14L305.25 337.35V292.23L305.75 290.94V341.96L306.25 346.6V293.07L306.75 294.06V351.69L307.25 358.23V293.98L307.75 293.88V358.09L308.25 356.25V293.47L308.75 292.25V369.26L309.25 369.26V292.12L309.75 289.68V350.99L310.25 345.23V292.16L310.75 296.5V337.21L311.25 332.74V296.5L311.75 296.5V329.43L312.25 326.23V289.19L312.75 291.85V323.87L313.25 323.62V291.64L313.75 291.42V324.01L314.25 324.39V290.24L314.75 290.01V327.83L315.25 332.92V292.72L315.75 292.69V348.72L316.25 362.96V293.64L316.75 293.58V362.96L317.25 356.5V292.77L317.75 292.68V356.31L318.25 354.45V292.58L318.75 293.23V387.46L319.25 353.08V290.75L319.75 290.63V353.1L320.25 352.41V290.5L320.75 292.79V351.26L321.25 352.46V295.59L321.75 295.59V352.46L322.25 338.19V295.59L322.75 291.5V337.83L323.25 338.17V291.35L323.75 291.74V345.26L324.25 350.85V292.06L324.75 294.12V383.46L325.25 383.46V294.09L325.75 294.05V386.16L326.25 386.16V292.71L326.75 290.67V361.08L327.25 362.29V291.92L327.75 291.85V361.9L328.25 370.96V290.88L328.75 295.99V370.96L329.25 370.96V295.99L329.75 295.99V352.59L330.25 335.88V295.99L330.75 293.39V335.13L331.25 334.55V293.3L331.75 293.2V334.91L332.25 335.18V291.49L332.75 292.15V335.27L333.25 335.04V295.77L333.75 295.77V338.4L334.25 344.43V295.77L334.75 291.9V347.4L335.25 349.35V293.87L335.75 293.76V350.35L336.25 362.96V293.63L336.75 291.61V362.96L337.25 362.96V291.46L337.75 295.98V350.63L338.25 350.61V295.98L338.75 295.98V349.4L339.25 345.21V295.98L339.75 292.41V343.17L340.25 342.08V292.21L340.75 289.33V337.08L341.25 336.54V290.92L341.75 290.69V335.51L342.25 338.16V289.84L342.75 292.6V349.37L343.25 365.46V290.76L343.75 290.69V351.46L344.25 351.78V291.59L344.75 291.47V352.13L345.25 350.75V291.35L345.75 291.21V359.96L346.25 349.38V292.96L346.75 292.74V347.76L347.25 336.52V292.57L347.75 296.35V333.81L348.25 333.22V296.35L348.75 296.35V334.06L349.25 333.13V296.35L349.75 291.58V333.95L350.25 333.96V296.66L350.75 296.66V334.91L351.25 335.57V296.66L351.75 296.66V337.41L352.25 349.66V293.86L352.75 293.92V356.68L353.25 357.01V293.88L353.75 293.83V371.76L354.25 371.76V293.77L354.75 293.42V357.54L355.25 356.64V293.35L355.75 293.27V351.78L356.25 344.14V292.89L356.75 292.81V336.97L357.25 335.8V293.19L357.75 291.93V335.73L358.25 336.01V295.77L358.75 295.77V339.17L359.25 348.02V295.77L359.75 295.77V352.03L360.25 365.46V292.84L360.75 292.72V365.46L361.25 353.34V294.08L361.75 294.03V353.55L362.25 353.45V293.33L362.75 293.25V353.46L363.25 353.46V293.16L363.75 293V351.69L364.25 346.7V292.89L364.75 292.77V340.59L365.25 337.06V292.97L365.75 292.83V336.31L366.25 336.16V292.69L366.75 291.48V336.17L367.25 334.91V291.32L367.75 291.16V332.6L368.25 332.97V291.39L368.75 291.22V332.18L369.25 332.21V291.15L369.75 290.97V334.18L370.25 336.64V293.16L370.75 290.42V341.57L371.25 344.47V290.36L371.75 293.78V346.86L372.25 350.14V293.69L372.75 296.56V351.12L373.25 360.96V296.56L373.75 296.56V360.96L374.25 348.8V296.56L374.75 293.08V345.98L375.25 340.82V292.94L375.75 289.72V340.01L376.25 339.03V289.57L376.75 291.56V338.5L377.25 339.54V291.4L377.75 291.23V340.1L378.25 342.39V288.64L378.75 291.49V343.96L379.25 347.3V291.27L379.75 291.21V355.88L380.25 376.76V291.12L380.75 291.01V376.76L381.25 351.44V291.99L381.75 292.24V350.63L382.25 347.74V292.08L382.75 296.92V346.39L383.25 345.96V296.92L383.75 296.92V345.96L384.25 338.33V289.19L384.75 289.83V337.2L385.25 337.25V289.61L385.75 296.21V337.37L386.25 338.06V296.21L386.75 296.21V338.95L387.25 344.92V291.03L387.75 291.05V357.57L388.25 377.46V294.2L388.75 294.16V377.46L389.25 361.86V292.14L389.75 291.55V383.46L390.25 360.53V291.45L390.75 293.61V360.47L391.25 376.96V293.49L391.75 292.62V376.96L392.25 348.59V292.48L392.75 296.49V330.71L393.25 330.08V296.49L393.75 296.49V329.57L394.25 329.11V289.19L394.75 289.19V330.42L395.25 331.03V292.07L395.75 290.88V331.04L396.25 340.08V290.68L396.75 295.87V359.24L397.25 359.12V288.44L397.75 295.87V366.96L398.25 359.03V292.79L398.75 292.62V359.31L399.25 369.26V292.55L399.75 292.47V360.71L400.25 356.34V292.38L400.75 292.2V344.51L401.25 336.53V292.09L401.75 291.99V333.93L402.25 330.01V292.2L402.75 292.07V328L403.25 326.71V291.94L403.75 289.22V326.2L404.25 324.07V289.19L404.75 289.19V323.98L405.25 324.51V289.19L405.75 291.24V330.46L406.25 343.29V291.08L406.75 293.57V349.05L407.25 378.96V293.5L407.75 293.41V378.96L408.25 355.03V293.3L408.75 291.17V379.46L409.25 357.38V292.55L409.75 292.39V359.54L410.25 356.65V292.22L410.75 292.04V354.31L411.25 361.96V292.81L411.75 292.6V346.36L412.25 340.72V292.39L412.75 292.19V337.91L413.25 336.03V291.95L413.75 291.71V337.43L414.25 337.26V289.58L414.75 289.32V338.97L415.25 339.56V290.18L415.75 293.33V346.96L416.25 357.37V296.34L416.75 296.34V358.06L417.25 373.76V296.34L417.75 296.34V356.75L418.25 356.69V290.05L418.75 289.96V356.55L419.25 356.56V292.26L419.75 293V356.46L420.25 356.46V293.06L420.75 292.94V331.69L421.25 331.32V293.13L421.75 289.99V330.72L422.25 330.93V289.85L422.75 291.4V332.75L423.25 335.28V291.25L423.75 291.1V337.65L424.25 348.3V290.94L424.75 294.14V367.96L425.25 357.82V294.1L425.75 293.92V368.96L426.25 368.96V293.83L426.75 293.72V356.94L427.25 357.76V291.23L427.75 291.09V356.8L428.25 357.2V290.95L428.75 290.79V358.46L429.25 358.46V296.43L429.75 296.43V331.25L430.25 329.91V296.81L430.75 296.81V330.44L431.25 330.17V296.81L431.75 291.88V329.99L432.25 330.37V290.42L432.75 291.68V330.98L433.25 331.56V291.45L433.75 291.21V337.05L434.25 348.33V290.52L434.75 290.48V348.79L435.25 363.46V294.08L435.75 294.02V363.46L436.25 363.46V296.9L436.75 296.9V348.91L437.25 348.7V296.9L437.75 295.48V332.09L438.25 332.37V296.01L438.75 296.01V332.04L439.25 332.15V296.01L439.75 291.75V333.96L440.25 338.07V291.64L440.75 292.51V341.69L441.25 345.94V292.39L441.75 292.27V348.87L442.25 350.12V289.19L442.75 292V350.49L443.25 350.74V293.6L443.75 293.38V354.96L444.25 351.05V293.33L444.75 293.27V350.14L445.25 350.82V291.01L445.75 290.26V350.91L446.25 350.09V290.18L446.75 290.09V359.46L447.25 359.46V289.99L447.75 290.56V351.33L448.25 350.07V290.46L448.75 292.71V351.79L449.25 351.96V292.6L449.75 296.91V344.27L450.25 344.19V296.91L450.75 296.91V342.73L451.25 344.08V296.91L451.75 290.86V355.26L452.25 356.23V293.54L452.75 293.51V356.49L453.25 356.65V293.47L453.75 293.42V393.46L454.25 393.46V293.47L454.75 293.4V357.95L455.25 355.66V293.33L455.75 293.34V366.96L456.25 366.96V293.55L456.75 293.46V343.63L457.25 333.19V293.36L457.75 293.41V331.2L458.25 331.02V293.31L458.75 293.2V331.41L459.25 331.25V292.7L459.75 292.35V332.95L460.25 333.85V296.02L460.75 296.02V337.56L461.25 340.21V296.02L461.75 292.62V343.49L462.25 345.96V296.85L462.75 296.85V343.67L463.25 340.3V296.85L463.75 296.85V339.15L464.25 340.62V292.73L464.75 292.44V356.77L465.25 358.85V292.27L465.75 290.92V373.46L466.25 373.46V290.73L466.75 296.47V334.08L467.25 326.7V296.47L467.75 296.47V326.23L468.25 324.52V296.47L468.75 289.73V325.36L469.25 326.05V291.39L469.75 291.14V327.38L470.25 328.49V295.55L470.75 296.16V341.14L471.25 355.87V296.16L471.75 296.16V373.76L472.25 356.63V296.16L472.75 292.74V356.24L473.25 355.59V293.5L473.75 293.42V356.73L474.25 356.49V292.59L474.75 293.38V357.96L475.25 356.67V296.3L475.75 296.3V349.51L476.25 334.52V296.3L476.75 291.64V328.02L477.25 328.07V291.73L477.75 291.61V328.83L478.25 336.94V291.49L478.75 291.36V349.16L479.25 361.96V288.04L479.75 294.15V352.91L480.25 354.63V290.32L480.75 293.02V354.02L481.25 354.69V292.95L481.75 292.88V354.6L482.25 358.09V292.8L482.75 293.14V369.46L483.25 358.44V293.05L483.75 291.99V349.89L484.25 339.6V292.71L484.75 292.6V338.62L485.25 337.3V292.48L485.75 292.85V335.56L486.25 334.43V292.73L486.75 292.59V332.71L487.25 332.51V292.38L487.75 292.24V333.43L488.25 334.2V296.83L488.75 296.83V337.71L489.25 340.88V296.83L489.75 292.92V345.25L490.25 348.27V295.9L490.75 295.9V350.96L491.25 351.18V295.9L491.75 290.81V353.96L492.25 353.96V290.72L492.75 290.63V349.8L493.25 355.96V290.53L493.75 292.41V348.58L494.25 344.84V292.3L494.75 292.19V343.04L495.25 341.36V292.07L495.75 296.72V335.54L496.25 334.79V296.72L496.75 296.72V334.01L497.25 335.37V292.05L497.75 293.62V349.96L498.25 347.11V290.32L498.75 294V347.23L499.25 346.48V293.9L499.75 293.79V387.16L500.25 387.16V292.69L500.75 292.55V346.03L501.25 340.79V292.39L501.75 292.23V339.76L502.25 339.39V296.85L502.75 296.85V338.72L503.25 338.51V296.85L503.75 289.63V337.72L504.25 339.4V289.41L504.75 289.19V339.83L505.25 340.98V289.19L505.75 290.99V344.53L506.25 347.48V290.75L506.75 289.19V351.18L507.25 356.34V295.56L507.75 295.56V358.73L508.25 358.26V295.56L508.75 293.7V363.46L509.25 358.59V293.6L509.75 293.49V358.8L510.25 378.96V293.62L510.75 293.5V378.96L511.25 358.63V293.36L511.75 291.6V338.37L512.25 337.72V291.45L512.75 291.29V337.43L513.25 336.63V291.13L513.75 296.71V337.33L514.25 337.03V296.71L514.75 296.71V334.56L515.25 333.85V296.71L515.75 291.09V333.7L516.25 333.75V296.95L516.75 296.95V336.8L517.25 357.63V296.95L517.75 293.63V369.96L518.25 369.96V293.56L518.75 293.49V356.76L519.25 355.47V293.41L519.75 292.8V355.63L520.25 353.78V292.71L520.75 292.61V354.46L521.25 354.46V296.99L521.75 296.99V339.89L522.25 331.63V296.99L522.75 296.99V330.39L523.25 330.27V292.45L523.75 292.33V329.45L524.25 329.36V295.93L524.75 295.93V329.4L525.25 330.02V295.93L525.75 293.31V342.06L526.25 352.25V292.73L526.75 292.08V358.01L527.25 358.45V291.95L527.75 291.81V358L528.25 358.58V291.65L528.75 292.84V375.16L529.25 375.16V296.62L529.75 296.62V356.86L530.25 358.01V296.62L530.75 291.95V357.49L531.25 362.96V291.83L531.75 291.59V362.96L532.25 362.96V291.35L532.75 291.1V356.85L533.25 357.05V290.33L533.75 290.07V357.37L534.25 384.16V293.21L534.75 294.15V384.16L535.25 355.94V293.36L535.75 293.02V357.23L536.25 357.02V293.5L536.75 293.37V357.2L537.25 358.96V293.22L537.75 290.04V358.96L538.25 358.96V291.81L538.75 296.6V334.84L539.25 334.72V296.6L539.75 296.6V333.45L540.25 334.76V290.68L540.75 289.19V336.87L541.25 337.23V296.92L541.75 296.92V339.27L542.25 341.84V296.92L542.75 296.92V343.91L543.25 346.29V289.19L543.75 290.35V347.54L544.25 348.48V292.46L544.75 292.4V349.57L545.25 349.87V292.33L545.75 290.1V349.24L546.25 370.16V290.01L546.75 292.86V370.16L547.25 348.64V291.39L547.75 291.28V342.8L548.25 337.12V295.84L548.75 295.84V336.14L549.25 335.92V295.84L549.75 292.82V335.3L550.25 336.3V292.34L550.75 292.19V336.27L551.25 336.1V287.44L551.75 289.8V339.08L552.25 343.33V292.18L552.75 294.06V347.01L553.25 352.57V294.02L553.75 293.96V358.93L554.25 363.82V293.03L554.75 292.95V363.38L555.25 362.78V292.87L555.75 292.77V378.46L556.25 378.46V292.74L556.75 292.63V356.31L557.25 339.53V293.12L557.75 296.15V334.53L558.25 331.1V296.15L558.75 296.15V329.26L559.25 330.76V291.85L559.75 295.48V330.35L560.25 336.76V295.48L560.75 295.48V340.86L561.25 345.93V295.48L561.75 293.44V351.66L562.25 353.93V295.53L562.75 296.74V353.83L563.25 373.26V296.74L563.75 296.74V373.26L564.25 353.76V296.74L564.75 293.25V353.8L565.25 351.32V291.86L565.75 293.59V353.96L566.25 353.96V290.71L566.75 290.62V346.06L567.25 343.31V290.53L567.75 290.44V343.93L568.25 343.26V293.12L568.75 293.02V345.99L569.25 350.34V292.91L569.75 295.9V356.5L570.25 359.9V295.9L570.75 295.9V361.47L571.25 363.58V295.9L571.75 292.94V364.1L572.25 365.14V292.89L572.75 291.57V364.84L573.25 363.83V291.51L573.75 291.95V362.17L574.25 373.96V296.89L574.75 296.89V373.96L575.25 354.21V296.89L575.75 293.23V344.5L576.25 336.57V293.14L576.75 289.78V331.23L577.25 327.99V289.68L577.75 296.01V327.61L578.25 328.2V296.01L578.75 296.01V328.37L579.25 328.84V292.77L579.75 291.04V329.51L580.25 333.89V293.44L580.75 290.27V345.52L581.25 346.69V290.18L581.75 290.08V347.96L582.25 347.96V289.96L582.75 292.63V347.96L583.25 346.21V296.24L583.75 296.24V345.52L584.25 338.19V296.24L584.75 296.24V336.97L585.25 335.73V292.35L585.75 292.16V335.07L586.25 334.76V291.96L586.75 291.04V334.06L587.25 333.04V290.82L587.75 290.6V332.62L588.25 332.73V289.19L588.75 289.19V333.54L589.25 334.87V294.13L589.75 294.06V337.65L590.25 344.99V293.97L590.75 293.81V359.96L591.25 352.14V293.69L591.75 293.42V353.35L592.25 352.91V293.27L592.75 293.1V352.2L593.25 353.36V292.93L593.75 292.33V354.93L594.25 356.16V292.14L594.75 291.93V356.16L595.25 350.95V291.72L595.75 290.21V350.57L596.25 349.02V289.98L596.75 289.74V350.42L597.25 355.26V290.95L597.75 290.69V359.09L598.25 359.44V293.46L598.75 293.4V386.16L599.25 386.16V293.41L599.75 296.86V358.95L600.25 359.41V296.86L600.75 296.86V360.09L601.25 360.17V295.44L601.75 295.44V368.46L602.25 368.46V295.44L602.75 292.94V345.6L603.25 341.84V292.77L603.75 290.38V338.47L604.25 336.28V290.19L604.75 291.65V333.69L605.25 334.07V291.44L605.75 291.23V334.52L606.25 334.98V289.86L606.75 295.76V339.2L607.25 344.32V295.76L607.75 295.76V346.02L608.25 346.47V295.76L608.75 291.04V345.99L609.25 347.06V293.67L609.75 292.98V353.39L610.25 379.96V292.9L610.75 292.81V379.96L611.25 350.46V292.71L611.75 293.19V336.19L612.25 335.76V293.09L612.75 292.97V336.54L613.25 337.53V291.24L613.75 291.11V339.06L614.25 341.16V290.99L614.75 291.36V344L615.25 346.65V291.22L615.75 291.08V351.96L616.25 348.41V290.93L616.75 293.65V347.05L617.25 346.95V293.99L617.75 292.27V346.33L618.25 346.07V292.15L618.75 292.02V350.3L619.25 351.69V291.24L619.75 291.08V354.16L620.25 354.16V290.85L620.75 290.67V346.02L621.25 336.76V290.48L621.75 290.28V332.76L622.25 327.95V289.19L622.75 289.19V328.68L623.25 328.38V292.02L623.75 291.78V329.94L624.25 335.96V288.44L624.75 290.37V358.46L625.25 358.96V290.81L625.75 293.95V358.68L626.25 357.3V293.92L626.75 291.34V358.7L627.25 358.65V291.28L627.75 293.81V372.96L628.25 372.96V293.67L628.75 293.58V358.85L629.25 358.68V293.49L629.75 292.49V358.52L630.25 358.76V292.39L630.75 292.28V362.46L631.25 362.46V296.88L631.75 296.88V362.46L632.25 357.93V296.88L632.75 296.88V335.2L633.25 332.81V292.07L633.75 291.93V335.22L634.25 335.22V296.53L634.75 296.53V338.71L635.25 341V296.53L635.75 290.28V341.84L636.25 347.66V291.42L636.75 293.74V358.05L637.25 358.17V291.14L637.75 291.05V379.76L638.25 379.76V291.26L638.75 291.16V349.9L639.25 339.75V291.06L639.75 291.5V337.97L640.25 338.1V296.76L640.75 296.76V337.44L641.25 336.82V296.76L641.75 296.76V335.46L642.25 334.95V291.82L642.75 289.34V335.76L643.25 335.72V292.23L643.75 293.93V336.95L644.25 336.8V294.12L644.75 294.05V337.96L645.25 337.72V293.97L645.75 290.06V341.87L646.25 348.59V289.94L646.75 291.3V347.93L647.25 363.96V292.75L647.75 292.6V363.96L648.25 348.94V292.44L648.75 290.7V347.23L649.25 344.12V290.53L649.75 290.34V338.24L650.25 332.09V290.15L650.75 290.96V327.65L651.25 327.12V291.06L651.75 290.85V327.54L652.25 331.88V289.82L652.75 289.59V336.77L653.25 340.81V292.35L653.75 292.31V346.84L654.25 350.96V296.92L654.75 296.92V356.67L655.25 357.99V296.92L655.75 296.92V358.65L656.25 358.8V292.44L656.75 295.71V367.46L657.25 367.46V295.71L657.75 295.71V331.83L658.25 331.74V295.71L658.75 290.43V330.13L659.25 331.33V290.31L659.75 291.04V332.56L660.25 335.17V290.91L660.75 290.78V337.51L661.25 339.26V289.98L661.75 287.44V342.96L662.25 349.48V293.66L662.75 296.8V356.06L663.25 358.54V296.8L663.75 296.8V379.16L664.25 379.16V296.13L664.75 293.27V357.4L665.25 358.37V292.84L665.75 296.71V358.75L666.25 369.96V296.71L666.75 296.71V369.96L667.25 348.17V295.95L667.75 296.72V335.07L668.25 330.7V296.72L668.75 296.72V324.5L669.25 325.7V296.72L669.75 296.65V325.75L670.25 331.02V296.65L670.75 296.65V337.01L671.25 347.28V294.01L671.75 293.88V358L672.25 371.46V293.82L672.75 293.76V371.46L673.25 371.46V293.42L673.75 293.08V357.91L674.25 356.23V292.98L674.75 292.88V330.81L675.25 328.55V293L675.75 292.89V328.4L676.25 326.89V292.85L676.75 292.63V327.4L677.25 328.99V292.5L677.75 291.88V330.1L678.25 330.23V291.73L678.75 291.59V332.82L679.25 339.13V296.73L679.75 296.73V345.14L680.25 350.33V296.97L680.75 296.97V352.95L681.25 358.93V296.97L681.75 293.96V358.03L682.25 381.16V293.04L682.75 292.9V381.16L683.25 358.35V292.55L683.75 292.39V354.95L684.25 332.58V293.17L684.75 290.9V367.96L685.25 330.1V290.71L685.75 290.5V330.49L686.25 330.69V291.87L686.75 291.65V332.44L687.25 333.18V291.42L687.75 291.45V339.05L688.25 347.81V291.2L688.75 290.95V350.89L689.25 354.16V290.69L689.75 290.85V354.16L690.25 354.16V295.99L690.75 295.99V351.67L691.25 350.92V295.99L691.75 291.55V348.97L692.25 347.61V291.38L692.75 291.22V345.18L693.25 340.51V289.78L693.75 289.59V336.19L694.25 331.54V292.58L694.75 291.41V328.17L695.25 327.75V296.56L695.75 296.56V326.88L696.25 326.6V296.56L696.75 296.56V327.1L697.25 330.73V296.38L697.75 289.19V338.04L698.25 346.75V289.19L698.75 291.92V351.89L699.25 354.58V291.87L699.75 293.62V356.57L700.25 358.23V293.53L700.75 293.43V358.3L701.25 370.16V293.31L701.75 292.42V370.16L702.25 357.45V292.29L702.75 290.57V342.38L703.25 341.6V290.6L703.75 290.43V340.48L704.25 340.06V290.27L704.75 291.57V338.81L705.25 338.85V296.35L705.75 296.35V338.17L706.25 341.49V296.35L706.75 296.35V346.62L707.25 354.39V291.04L707.75 293.64V358.64L708.25 358.43V294.13L708.75 294.04V386.16L709.25 386.16V293.93L709.75 293.8V358.23L710.25 358.87V293.17L710.75 296.71V358.74L711.25 372.96V296.71L711.75 296.71V352.8L712.25 348.68V296.74L712.75 296.74V342.95L713.25 339.68V296.74L713.75 296.55V338.23L714.25 337.82V296.55L714.75 296.55V336.96L715.25 336.72V290.97L715.75 290.71V337.76L716.25 341.36V290.45L716.75 294.06V348.01L717.25 352.63V295.8L717.75 296.84V353.46L718.25 353.46V296.84L718.75 296.84V352.87L719.25 352.6V296.84L719.75 291.53V356.05L720.25 357.75V291.4L720.75 291.25V373.46L721.25 373.46V290.98L721.75 291.66V339.38L722.25 333.84V291.49L722.75 291.31V333.4L723.25 334.1V290.89L723.75 290.69V335.35L724.25 338.11V290.49L724.75 290.28V368.96L725.25 358.35V291.35L725.75 291.13V357.57L726.25 376.46V293.84L726.75 293.49V376.46L727.25 376.46V293.43L727.75 293.36V358.33L728.25 358.03V293.6L728.75 293.51V358.05L729.25 381.16V293.41L729.75 291.34V381.16L730.25 357.62V291.23L730.75 291.11V346.91L731.25 334.89V289.43L731.75 296.75V334.73L732.25 332.55V296.75L732.75 296.75V331.02L733.25 330.27V296.75L733.75 291.61V331.11L734.25 340.64V291.46L734.75 290.73V358.23L735.25 369.96V296.73L735.75 296.73V369.96L736.25 369.96V296.73L736.75 296.73V358.91L737.25 358.68V293.57L737.75 290.33V357.9L738.25 370.66V290.24L738.75 290.14V370.66L739.25 370.66V292.64L739.75 292.53V350.32L740.25 340.74V292.42L740.75 291.27V340.39L741.25 341.5V296.78L741.75 296.78V346.36L742.25 351.87V296.78L742.75 295.84V353.35L743.25 354.38V295.84L743.75 296.85V355.96L744.25 355.96V296.85L744.75 296.85V355.62L745.25 356.13V296.85L745.75 291.51V389.16L746.25 389.16V291.39L746.75 291.26V356.89L747.25 357.58V293.37L747.75 293.21V366.96L748.25 345.64V293.21L748.75 293.03V330.51L749.25 330.23V292.85L749.75 292.01V330.42L750.25 331.69V291.8L750.75 291.73V333.19L751.25 335.77V291.08L751.75 290.85V340.49L752.25 350.48V290.61L752.75 290.37V356.87L753.25 387.46V292.34L753.75 292.31V387.46L754.25 354.96V292.27L754.75 292.22V353.58L755.25 353.62V293.8L755.75 293.74V352.78L756.25 361.46V293.66L756.75 296.8V361.46L757.25 350.2V296.8L757.75 296.8V348.58L758.25 341.63V296.8L758.75 290.47V335.42L759.25 334.94V290.37L759.75 290.26V335.33L760.25 336.5V290.15L760.75 292.62V342.06L761.25 346.17V285.64L761.75 292.38V353.49L762.25 357.67V290.63L762.75 293.42V393.46L763.25 393.46V293.35L763.75 291.42V357.94L764.25 357.79V291.32L764.75 291.2V356.89L765.25 367.96V291.06L765.75 291.5V354.88L766.25 349.63V292.85L766.75 290V342.25L767.25 338.08V289.83L767.75 289.64V335.56L768.25 332.85V290.66L768.75 290.46V332.97L769.25 332.11V291.92L769.75 291.71V332.66L770.25 333.89V291.48L770.75 289.19V334.24L771.25 337.06V289.19L771.75 290.35V341.87L772.25 348.94V293.56L772.75 293.49V351.22L773.25 358.96V290.14L773.75 292.67V358.96L774.25 351.07V292.79L774.75 292.67V339.57L775.25 337.05V292.54L775.75 292.4V335.46L776.25 334.82V289.39L776.75 289.23V333.3L777.25 332.54V295.89L777.75 295.89V333.32L778.25 334.31V295.89L778.75 292.23V337.34L779.25 342.29V292.01L779.75 291.81V346.1L780.25 348.05V291.61L780.75 294.02V348.01L781.25 348.37V293.9L781.75 292.88V350.1L782.25 355.51V292.83L782.75 293.33V358.81L783.25 358.19V293.27L783.75 293.21V379.16L784.25 379.16V296.22L784.75 296.22V358.56L785.25 358.65V296.29L785.75 296.29V368.96L786.25 339.02V296.29L786.75 296.29V338.49L787.25 338.43V292.02L787.75 292.81V338.96L788.25 351.74V292.71L788.75 292.61V358.28L789.25 363.46V289.19L789.75 292.92V363.46L790.25 363.46V294.13L790.75 294.09V358.88L791.25 358.67V293.96L791.75 293.89V358.68L792.25 358.73V293.82L792.75 295.56V382.16L793.25 382.16V295.56L793.75 295.56V347.97L794.25 340.69V295.56L794.75 292.08V339.97L795.25 341.22V291.97L795.75 291.86V348.13L796.25 348.66V291.74L796.75 292.79V348.96L797.25 348.96V292.67L797.75 292.54V350.17L798.25 350.3V296.91L798.75 296.91V353.46L799.25 353.46V296.91L799.75 291.33V343.7L800.25 343.95V293.31L800.75 295.97V344.42L801.25 358.68V295.97L801.75 295.97V362.16L802.25 362.16V295.97L802.75 290.83V340.02L803.25 338.47V290.7L803.75 293.01V337.38L804.25 334.43V292.86L804.75 292.71V331.56L805.25 329.33V291.32L805.75 292.59V327.89L806.25 329.04V290.54L806.75 290.36V331.12L807.25 337.44V296.87L807.75 296.87V345.21L808.25 351.59V296.87L808.75 296.87V356.88L809.25 357.72V296.81L809.75 296.81V378.76L810.25 378.76V293.94L810.75 293.86V358.9L811.25 358.96V293.26L811.75 293.17V358.88L812.25 370.96V293.07L812.75 291.83V324.22L813.25 322.7V292.65L813.75 292.54V323.23L814.25 323.75V291.46L814.75 291.34V324.31L815.25 324.97V291.21L815.75 292.75V333.73L816.25 349.54V290.94L816.75 290.8V358.02L817.25 375.46V292.47L817.75 292.42V375.46L818.25 375.46V293.05L818.75 293.75V358.26L819.25 358.69V293.37L819.75 292.37V357.99L820.25 358.76V292.24L820.75 292.09V384.16L821.25 384.16V292.68L821.75 292.52V358.62L822.25 356.77V292.34L822.75 292.16V356.05L823.25 342.1V291.78L823.75 291.59V356.46L824.25 356.46V291.38L824.75 291.17V326.36L825.25 327.13V290.97L825.75 290.74V350.7L826.25 353.49V293.95L826.75 293.9V357.37L827.25 357.69V293.83L827.75 293.73V358.66L828.25 357.41V291.23L828.75 291.1V378.46L829.25 378.46V296.81L829.75 296.81V354.93L830.25 348.47V296.81L830.75 291.46V341.55L831.25 339.03V292.14L831.75 291.95V335.98L832.25 334.91V297.01L832.75 297.01V334.57L833.25 334.54V297.01L833.75 297.01V333.61L834.25 334.36V295.74L834.75 290.8V342.02L835.25 357.26V293.52L835.75 293.48V358.85L836.25 370.16V293.39L836.75 292.98V370.16L837.25 357.93V291.58L837.75 291.44V357.87L838.25 356.12V291.28L838.75 293.1V354.1L839.25 354.39V296.01L839.75 296.01V353.96L840.25 353.96V296.01L840.75 291.82V333.43L841.25 331.67V290.91L841.75 290.67V331.68L842.25 356.51V290.42L842.75 290.63V358.47L843.25 368.66V290.36L843.75 290.08V368.66L844.25 357.31V290.05L844.75 293.84V358.7L845.25 358.71V295.73L845.75 295.73V357.84L846.25 365.46V295.73L846.75 290.53V356.75L847.25 353.88V290.38L847.75 290.22V349.24L848.25 346.83V290.05L848.75 292.54V342.94L849.25 338.26V296.73L849.75 296.73V338.2L850.25 337.11V296.73L850.75 291.88V335.89L851.25 334.86V291.84L851.75 295.81V336.45L852.25 338.27V295.81L852.75 295.81V343.37L853.25 348.19V295.81L853.75 293.65V357.9L854.25 367.46V293.6L854.75 293.53V367.46L855.25 352.06V292.54L855.75 292.44V345.49L856.25 345.43V292.32L856.75 291V344.02L857.25 345.46V292.42L857.75 292.27V345.46L858.25 337.07V292.12L858.75 291.21V329.38L859.25 328.31V291.04L859.75 291.81V329.17L860.25 335.27V290.18L860.75 297.01V346.65L861.25 348.98V297.01L861.75 297.01V349.58L862.25 351.76V289.19L862.75 290.55V352.35L863.25 352.91V290.5L863.75 291.87V353.11L864.25 362.96V291.78L864.75 291.67V351.32L865.25 352.44V295.64L865.75 295.64V352.31L866.25 352.22V295.64L866.75 295.64V346.88L867.25 335.05V292.8L867.75 292.68V334.67L868.25 334.23V292.5L868.75 292.32V334.35L869.25 335.58V292.13L869.75 290.91V339.84L870.25 343.24V290.71L870.75 290.49V345.94L871.25 346.34V291.23L871.75 293.8V348.27L872.25 352.46V293.34L872.75 293.27V356.97L873.25 373.46V293.34L873.75 293.23V373.46L874.25 358.34V293.11L874.75 292.98V358.16L875.25 358.03V292.27L875.75 292.11V357.76L876.25 365.46V291.95L876.75 291.78V346.56L877.25 346.95V292.56L877.75 291.61V347.57L878.25 347.96V291.41L878.75 291.2V347.96L879.25 343.19V290.99L879.75 290.37V342.37L880.25 345.33V290.14L880.75 289.91V350.58L881.25 353.19V295.78L881.75 295.78V357.08L882.25 360.2V295.78L882.75 293.5V361.17L883.25 362.47V293.44L883.75 296.57V361.47L884.25 360.16V296.57L884.75 296.57V377.26L885.25 377.26V293.27L885.75 296.17V340.46L886.25 328.37V296.17L886.75 296.17V328.23L887.25 328.83V290.77L887.75 291.63V329.98L888.25 333.42V291.53L888.75 291.16V337.27L889.25 356.7V291.05L889.75 290.93V358.85L890.25 377.46V292.34L890.75 294.09V377.46L891.25 357.7V294.05L891.75 294V357.67L892.25 357.9V293.95L892.75 293.66V358.94L893.25 362.46V296.59L893.75 296.59V362.46L894.25 362.46V296.59L894.75 292.92V346.29L895.25 332.22V292.84L895.75 292.25V331.71L896.25 330.73V292.15L896.75 289.48V331.27L897.25 335.01V289.37L897.75 289.27V345.35L898.25 353.69V292.9L898.75 292.79V357.92L899.25 371.46V294.11L900 293.11V371.46"/>
<path class="tk" d="M125.5 412.5v5M171.5 412.5v5M262.5 412.5v5M354.5 412.5v5M445.5 412.5v5M536.5 412.5v5M627.5 412.5v5M718.5 412.5v5M810.5 412.5v5M900.5 412.5v5M125.5 305.5h-5M125.5 345.5h-5M125.5 385.5h-5"/>
<path class="tkm" d="M217.5 412.5v2.92M308.5 412.5v2.92M399.5 412.5v2.92M490.5 412.5v2.92M582.5 412.5v2.92M673.5 412.5v2.92M764.5 412.5v2.92M855.5 412.5v2.92"/>
<text class="t" text-anchor="middle" x="171.03" y="433">2020</text>
<text class="t" text-anchor="middle" x="262.26" y="433">2030</text>
<text class="t" text-anchor="middle" x="353.5" y="433">2040</text>
<text class="t" text-anchor="middle" x="444.74" y="433">2050</text>
<text class="t" text-anchor="middle" x="535.98" y="433">2060</text>
<text class="t" text-anchor="middle" x="627.22" y="433">2070</text>
<text class="t" text-anchor="middle" x="718.46" y="433">2080</text>
<text class="t" text-anchor="middle" x="809.7" y="433">2090</text>
<text class="t" text-anchor="end" x="115.28" y="310">−25</text>
<text class="t" text-anchor="end" x="115.28" y="350">−50</text>
<text class="t" text-anchor="end" x="115.28" y="390">−75</text>
<text class="t" text-anchor="middle" transform="translate(76.8 347.43) rotate(-90)">fieldmin</text>
<rect class="ax" x="125.5" y="279.5" width="775" height="133"/>
</g>
<g id="ax2">
<path class="ln" clip-path="url(#c2)" d="M125 555.93V499.44L125.75 499.95V553.89L126.25 552.91V464.04L126.75 500.55V552.86L127.25 553.24V481.04L127.75 481.04V554.92L128.25 552.2V499.89L128.75 500.13V553.92L129.25 551.73V500.17L129.75 500.78V551.09L130.25 550.98V500.71L130.75 500.47V553.54L131.25 551.71V493.54L131.75 500.01V552.81L132.25 552.58V499.96L132.75 499.5V564.96L133.25 564.96V499.2L133.75 499.54V553.03L134.25 554.78V499.99L134.75 469.04V552.11L135.25 553.27V469.04L135.75 499.11V553.21L136.25 557.96V498.38L136.75 498.61V557.96L137.25 553.36V498.38L137.75 498.88V557.92L138.25 551.94V499.82L138.75 499.28V550.26L139.25 548.1V471.04L139.75 499.98V548.32L140.25 547.92V501.55L140.75 501.46V547.75L141.25 549.54V502.28L141.75 503.54V553.4L142.25 553.21V496.54L142.75 503.46V553.26L143.25 552.58V504.6L143.75 504.18V553.2L144.25 556.96V504.91L144.75 504.24V552.44L145.25 552.17V505.29L145.75 498.04V552.65L146.25 552.71V498.04L146.75 504.59V553.35L147.25 552.82V504.7L147.75 506.22V550.2L148.25 548.42V505.61L148.75 501.54V547.81L149.25 548.26V505.98L149.75 506.09V548.88L150.25 553.18V508.74L150.75 509.7V551.84L151.25 553.11V510.03L151.75 509.83V552.84L152.25 552.74V510.77L152.75 493.04V553.35L153.25 555.95V506.45L153.75 504.89V551.94L154.25 554.5V479.04L154.75 503.45V553.08L155.25 553.33V501.89L155.75 500.24V554.66L156.25 551.11V500.32L156.75 499.56V551.77L157.25 547.44V499.61L157.75 498.53V546.89L158.25 546.78V497.33L158.75 496.22V549.52L159.25 548.87V496.45L159.75 497.59V551.5L160.25 553.3V499.12L160.75 476.34V553.06L161.25 552.86V476.34L161.75 500.07V552.82L162.25 558.96V501.2L162.75 504.01V558.96L163.25 553.33V480.04L163.75 502.98V552.29L164.25 552.85V504.3L164.75 504.33V552.99L165.25 552.76V505.11L165.75 505.82V555.92L166.25 554.96V505.49L166.75 506.54V549.42L167.25 550.43V506.74L167.75 506.2V547.79L168.25 547.9V506.15L168.75 506.63V548.65L169.25 549.87V506.23L169.75 485.54V551.7L170.25 553.27V507.1L170.75 484.24V552.95L171.25 551.95V484.24L171.75 507.19V553.25L172.25 558.36V507.59L172.75 507.43V558.36L173.25 552.85V507.48L173.75 506.33V553.35L174.25 551.54V501.04L174.75 506.83V550.38L175.25 548.57V505.52L175.75 504.4V547.7L176.25 548.22V505.53L176.75 506.17V548.45L177.25 550.34V508.33L177.75 507.01V551.81L178.25 552.86V507.37L178.75 492.04V552.81L179.25 553.32V506.2L179.75 505.29V553.25L180.25 552.93V504.73L180.75 460.84V553.09L181.25 553.09V504.48L181.75 469.04V556.51L182.25 553.34V503.12L182.75 478.54V552.1L183.25 551.22V501.92L183.75 501.37V549.85L184.25 547.78V504.33L184.75 504.42V547.17L185.25 546.71V505.79L185.75 507.59V548.78L186.25 551.79V507.25L186.75 507.06V551.17L187.25 552.58V506.26L187.75 506.52V552.73L188.25 552.94V505.81L188.75 455.54V553.06L189.25 555.56V505.32L189.75 472.04V552.95L190.25 552.83V504.38L190.75 503.69V552.82L191.25 554.4V503.03L191.75 471.24V554.39L192.25 551.79V471.24L192.75 501.92V550.76L193.25 549.49V501.37L193.75 500.45V548.78L194.25 548.19V488.04L194.75 499.8V549.51L195.25 550.42V495.04L195.75 499V551.97L196.25 553.15V498.35L196.75 499.24V552.93L197.25 559.55V499.13L197.75 499.19V558.36L198.25 553.31V480.04L198.75 500.75V552.07L199.25 553.1V500.42L199.75 472.54V552.51L200.25 552.96V501.65L200.75 501.43V552.91L201.25 552.5V501.76L201.75 504.15V551.81L202.25 550.34V480.04L202.75 480.04V549.31L203.25 549.59V480.04L203.75 503.83V552.29L204.25 551.4V504.06L204.75 504.65V552.65L205.25 552.16V504.07L205.75 503.95V552.34L206.25 552.89V505.63L206.75 481.04V552.94L207.25 554.96V503.83L207.75 504.13V552.69L208.25 553.2V503.55L208.75 470.24V553.17L209.25 552.78V502.88L209.75 502.87V552.76L210.25 552.56V503.36L210.75 502.59V551.82L211.25 550.43V485.04L211.75 503.63V550.16L212.25 549.97V503.14L212.75 504.9V550.67L213.25 551.38V505.77L213.75 507.47V552.58L214.25 553.11V508.07L214.75 508.24V552.67L215.25 552.32V505.35L215.75 501.99V553.06L216.25 557.96V500.84L216.75 500.96V557.96L217.25 552.48V480.04L217.75 499.31V553.17L218.25 553.19V498.6L218.75 498.55V556.1L219.25 552.41V484.04L219.75 499.09V553L220.25 557.27V497.93L220.75 491.04V552.55L221.25 552.24V497.03L221.75 496.98V550.79L222.25 549.21V497.69L222.75 497.58V548.99L223.25 548.64V496.97L223.75 480.84V549.35L224.25 550.78V480.84L224.75 496.16V551.59L225.25 553.81V496.6L225.75 469.04V559.96L226.25 559.96V469.04L226.75 499.08V552.78L227.25 557.86V498.66L227.75 445.54V552.95L228.25 553.3V500.72L228.75 500.78V552.93L229.25 552.91V496.04L229.75 503.37V551.77L230.25 551.67V503.48L230.75 504.78V550.67L231.25 554.53V505.93L231.75 506.04V554.27L232.25 552.36V507.1L232.75 508.6V552.67L233.25 552.87V508.2L233.75 507.93V553.25L234.25 553.31V507.88L234.75 508.52V552.92L235.25 559.23V492.04L235.75 508.46V553.04L236.25 552.78V464.54L236.75 464.54V553.15L237.25 553.21V508.36L237.75 506.98V552.88L238.25 552.29V507.06L238.75 489.04V550.92L239.25 549.3V506.41L239.75 505.68V548.9L240.25 549.24V505.36L240.75 505.92V549.29L241.25 551.37V507.04L241.75 492.04V552.31L242.25 553.02V506.04L242.75 506.33V553.21L243.25 553.15V457.04L243.75 457.04V552.84L244.25 553.27V506.52L244.75 506.28V553.74L245.25 554.54V507.7L245.75 451.24V558L246.25 554.46V506.57L246.75 507.11V552.77L247.25 551.42V507.42L247.75 469.54V549.47L248.25 547.74V506.8L248.75 507.55V547L249.25 546.97V506.7L249.75 482.04V550.45L250.25 549.22V482.04L250.75 508.09V551.18L251.25 553.01V507.47L251.75 509.07V554.49L252.25 552.85V507.54L252.75 508.3V552.66L253.25 560.31V502.04L253.75 508.76V558.96L254.25 552.51V508.26L254.75 500.54V554.5L255.25 553.35V507.91L255.75 508.02V552.36L256.25 551.65V508.72L256.75 509.31V549.6L257.25 547.25V509.36L257.75 502.04V546.93L258.25 547.15V510.41L258.75 509.36V547.09L259.25 548.33V510.51L259.75 508.69V552.51L260.25 558.02V493.04L260.75 508.85V553.87L261.25 553.19V510.71L261.75 482.04V552.91L262.25 552.54V509.17L262.75 458.04V552.52L263.25 552.92V509.33L263.75 510.58V553.13L264.25 553.12V510.45L264.75 476.04V554.93L265.25 554.73V511.06L265.75 510.13V552.68L266.25 552.7V509.96L266.75 467.54V552.48L267.25 552.14V467.54L267.75 510.12V557.14L268.25 552.6V510.29L268.75 511.12V553.15L269.25 553.28V475.04L269.75 511.85V552.35L270.25 556.36V510.6L270.75 510.35V552.78L271.25 553.56V510.16L271.75 510.1V553.34L272.25 552.29V509.08L272.75 488.04V553.03L273.25 552.61V508.02L273.75 506.79V552.95L274.25 552.54V486.84L274.75 505.7V551.25L275.25 549.92V504.55L275.75 505.42V550.31L276.25 550.43V503.45L276.75 493.54V552.97L277.25 551.34V493.54L277.75 501.21V551.84L278.25 556.86V500.86L278.75 499.78V555L279.25 553.19V499.35L279.75 499.75V553L280.25 557.56V502.49L280.75 483.04V552.79L281.25 553.3V483.04L281.75 501.99V553.18L282.25 553.06V502.14L282.75 499.54V553.06L283.25 550.9V502.83L283.75 504.84V550.01L284.25 548.35V504.85L284.75 504.09V548.19L285.25 547.95V503.4L285.75 503.17V548.38L286.25 550V502.4L286.75 490.04V551.93L287.25 552.87V502.53L287.75 473.04V552.84L288.25 556.79V503.52L288.75 503.44V553.09L289.25 552.94V466.04L289.75 501.96V555.85L290.25 552.29V501.73L290.75 478.54V553.95L291.25 552.62V501.04L291.75 500.41V552.97L292.25 554.63V482.04L292.75 500.47V553.03L293.25 554.93V500.5L293.75 499.67V551.41L294.25 549.9V500.5L294.75 501.31V547.93L295.25 547.89V501.79L295.75 496.04V550.93L296.25 549.49V502.4L296.75 502.13V550.81L297.25 552.48V502.74L297.75 460.34V553.09L298.25 552.93V504.13L298.75 503.28V553.14L299.25 553.06V504.94L299.75 493.54V553.27L300.25 556.36V504.36L300.75 505.46V555.5L301.25 555.5V492.04L301.75 492.04V552.95L302.25 553.16V492.04L302.75 506.76V552.78L303.25 551.95V506.91L303.75 507.37V551.35L304.25 551.19V507.72L304.75 508.45V552.04L305.25 557.09V508.61L305.75 508.73V552.96L306.25 552.78V502.04L306.75 507.95V553.34L307.25 552.84V507.7L307.75 508.84V556.59L308.25 556.96V507.39L308.75 468.84V553L309.25 552.69V468.84L309.75 507.71V553.14L310.25 552.47V508.66L310.75 494.54V554.59L311.25 556.33V507.45L311.75 498.04V550.6L312.25 549.02V507.63L312.75 507.51V548.64L313.25 548.69V507L313.75 507.08V548.69L314.25 550.52V505.55L314.75 504.84V554.61L315.25 560.96V495.54L315.75 495.54V560.96L316.25 552.78V502.39L316.75 502.6V555.17L317.25 552.52V501.76L317.75 500.24V555L318.25 553.07V499.83L318.75 455.04V553.35L319.25 553.17V498.99L319.75 498.71V552.59L320.25 550.93V498.31L320.75 490.04V551.29L321.25 549.13V490.04L321.75 497.62V547.37L322.25 547.42V498.55L322.75 497.06V547.89L323.25 549.49V493.54L323.75 496.24V550.96L324.25 553.27V496.15L324.75 469.04V552.77L325.25 553.12V496.11L325.75 497.32V552.79L326.25 553.17V457.04L326.75 457.04V552.28L327.25 551.6V497.86L327.75 498.33V551.35L328.25 552.09V466.04L328.75 501.42V552.47L329.25 552.6V479.04L329.75 501.72V552.99L330.25 552.38V496.04L330.75 502.79V553.22L331.25 552.75V503.92L331.75 504.3V552.32L332.25 556.96V504.51L332.75 503.63V552.43L333.25 553.16V504.4L333.75 497.04V553.82L334.25 552.72V503.33L334.75 503.98V553.16L335.25 553.32V504.26L335.75 495.84V553.27L336.25 551.99V495.84L336.75 504V550.15L337.25 548.99V503.32L337.75 505.3V550.74L338.25 548.96V503.54L338.75 490.24V554.19L339.25 550.59V490.24L339.75 503.34V551.71L340.25 553.11V499.04L340.75 504.51V553.08L341.25 553.08V503.72L341.75 504.61V553.92L342.25 553.2V503.38L342.75 504.04V553.22L343.25 553.2V493.04L343.75 504.51V552.98L344.25 555.48V503.49L344.75 505.11V552.86L345.25 551.69V503.58L345.75 482.04V550.01L346.25 548.76V482.04L346.75 504.51V547.4L347.25 547.1V492.04L347.75 504.92V552.59L348.25 555V506.21L348.75 504.56V551.16L349.25 553.75V505.34L349.75 504.8V547.4L350.25 547.35V504.87L350.75 469.04V546.14L351.25 547.52V469.04L351.75 505.06V549.48L352.25 551.1V476.04L352.75 505.04V552.94L353.25 554.43V504.67L353.75 504.9V553.09L354.25 555.56V506.05L354.75 466.24V551.92L355.25 553.07V466.24L355.75 506.46V553.13L356.25 552.49V506.33L356.75 505.2V551.02L357.25 549.53V506.47L357.75 505.93V549.53L358.25 549.48V505.14L358.75 504.8V549.86L359.25 551.08V505.97L359.75 507.12V552.36L360.25 553.09V506.91L360.75 478.84V552.57L361.25 552.72V478.84L361.75 511.84V557.27L362.25 553.34V510.04L362.75 510.65V560.36L363.25 560.36V510.55L363.75 487.84V553.33L364.25 556.31V487.84L364.75 510.04V554.65L365.25 553.59V498.04L365.75 509.85V551.49L366.25 550.85V509.12L366.75 509.38V550.76L367.25 550.59V509.21L367.75 508.86V551.08L368.25 555.15V502.04L368.75 509.62V553.74L369.25 553.11V508.22L369.75 508.82V559.56L370.25 559.56V508.32L370.75 500.04V556.93L371.25 552.83V508.92L371.75 508.03V553.16L372.25 554.57V507.73L372.75 507.27V552.87L373.25 553.22V497.04L373.75 507.03V553.7L374.25 554.13V507.49L374.75 495.54V552.82L375.25 555.35V506.93L375.75 507.88V552.96L376.25 556.37V490.54L376.75 506.24V552.67L377.25 552.91V506.55L377.75 506.65V552.28L378.25 551.87V505.55L378.75 505.12V552.94L379.25 554.37V505.06L379.75 482.04V556.32L380.25 555.26V503.8L380.75 504.02V553.15L381.25 554.96V481.24L381.75 502.51V552.25L382.25 553.18V502.42L382.75 485.04V552.54L383.25 551.83V501.66L383.75 500.83V551.19L384.25 550.56V500.5L384.75 479.04V553.93L385.25 549.68V479.04L385.75 499.72V549.34L386.25 551.47V499.93L386.75 474.04V554.6L387.25 552.53V499.75L387.75 465.04V557.56L388.25 552.35V500.48L388.75 500.13V553.3L389.25 553.1V500.17L389.75 460.84V552.88L390.25 553.22V460.84L390.75 501.34V553.18L391.25 554.96V501.5L391.75 478.04V553.04L392.25 553.01V478.04L392.75 501.33V553.26L393.25 552.68V501.81L393.75 489.04V551.76L394.25 550.67V502.94L394.75 502.28V549.38L395.25 549.95V492.04L395.75 502.3V549.87L396.25 550.99V502.37L396.75 502.46V552.17L397.25 552.29V490.54L397.75 503.19V551.67L398.25 552.26V504.42L398.75 489.54V552.82L399.25 553.34V503.16L399.75 484.04V552.23L400.25 554.96V484.04L400.75 503.89V553.07L401.25 552.79V504.13L401.75 492.04V553.22L402.25 553.25V503.79L402.75 504.35V553.01L403.25 550.99V499.04L403.75 504.03V550.53L404.25 549.17V504.43L404.75 505.45V548.68L405.25 548.97V504.54L405.75 497.54V550.59L406.25 554.04V504.58L406.75 474.04V553.13L407.25 552.58V505.59L407.75 505.4V553.18L408.25 553.23V506.45L408.75 468.04V552.31L409.25 552.8V468.04L409.75 505.09V552.67L410.25 552.75V505.96L410.75 505.8V553.18L411.25 552.62V486.54L411.75 506.62V551.89L412.25 551.16V506.22L412.75 502.04V551.05L413.25 550.39V506.17L413.75 506.94V550.79L414.25 551.35V506.46L414.75 507.65V552.33L415.25 552.25V506.57L415.75 506.12V552.94L416.25 552.41V507.67L416.75 506.87V552.54L417.25 558.72V462.04L417.75 507.32V553.08L418.25 552.94V506.41L418.75 483.04V552.89L419.25 552.95V506.92L419.75 506.43V555.5L420.25 552.63V480.54L420.75 506.46V552.82L421.25 552.16V506.9L421.75 502.04V551.41L422.25 548.86V506.19L422.75 505.68V548.69L423.25 548.24V505.13L423.75 503.04V548.91L424.25 550.37V502.33L424.75 471.04V552.01L425.25 554.33V499.36L425.75 470.04V553.3L426.25 553.17V494.2L426.75 493.09V553.03L427.25 555.56V462.04L427.75 493.49V552.55L428.25 553.1V490.58L428.75 489.04V552.54L429.25 551.49V491.62L429.75 492.97V550.07L430.25 548.94V471.04L430.75 495.26V547.81L431.25 548.85V497.09L431.75 498.7V549.89L432.25 550.87V499.04L432.75 500.27V552.28L433.25 552.1V499.95L433.75 500.78V554.23L434.25 559.79V500.59L434.75 502.26V553.15L435.25 559.56V469.84L435.75 503.35V560.26L436.25 553.02V502.26L436.75 497.04V552.71L437.25 557.74V502.45L437.75 504.48V557.68L438.25 553V503.49L438.75 503.87V552.35L439.25 553.01V502.55L439.75 502.71V552.25L440.25 551.61V503.1L440.75 502.38V550.83L441.25 551.29V490.54L441.75 501.53V552.55L442.25 552.29V501.36L442.75 500.14V552.59L443.25 552.76V487.04L443.75 487.04V552.85L444.25 552.99V499.36L444.75 486.54V553.09L445.25 554.96V499.02L445.75 498.23V553.31L446.25 552.82V498.07L446.75 484.84V552.9L447.25 551.69V484.84L447.75 497.29V549.01L448.25 547.89V497.21L448.75 496.4V547.19L449.25 547.54V480.54L449.75 495.36V547.4L450.25 549.06V496.2L450.75 495.85V551.74L451.25 553.88V496.36L451.75 491.54V552.34L452.25 552.73V497.14L452.75 497.78V554.16L453.25 553.28V498.26L453.75 450.24V553.18L454.25 557.42V450.24L454.75 500.43V553.08L455.25 555.23V500.27L455.75 476.24V552.96L456.25 552.77V501.93L456.75 501.16V552.32L457.25 550.77V501.83L457.75 493.54V550.73L458.25 554.84V504.12L458.75 503.73V551.76L459.25 551.23V504.48L459.75 504.66V553.37L460.25 553.68V504.29L460.75 504.3V552.73L461.25 552.68V504.43L461.75 506.04V552.52L462.25 553.29V504.42L462.75 505.67V555.77L463.25 554.96V500.54L463.75 500.54V552.51L464.25 554.58V504.48L464.75 504.1V552.44L465.25 552.8V504.49L465.75 502.04V553.13L466.25 552.73V503.62L466.75 504.02V552.86L467.25 550.05V503.98L467.75 503.25V548.99L468.25 549.07V504.03L468.75 503.65V549.33L469.25 550.05V503.16L469.75 504.1V552.28L470.25 554.94V502.55L470.75 495.04V553.14L471.25 553.12V501.47L471.75 485.24V553.14L472.25 553.17V501.16L472.75 500.52V553.05L473.25 563.56V491.04L473.75 499.42V563.56L474.25 552.95V498.77L474.75 485.04V557.79L475.25 554.54V497.74L475.75 497.87V553.19L476.25 552.68V499.27L476.75 499.03V552.72L477.25 553.83V497.04L477.75 501.45V552.53L478.25 552.84V499.62L478.75 500.19V553.14L479.25 552.82V500.57L479.75 485.24V557.55L480.25 553.25V501.87L480.75 501.15V558.49L481.25 555.96V493.54L481.75 501.55V554.65L482.25 552.95V502.69L482.75 503.73V552.87L483.25 552.34V483.54L483.75 503.77V554.99L484.25 551.06V505.51L484.75 495.04V552.82L485.25 551.02V505.78L485.75 505.82V551.63L486.25 552.17V504.03L486.75 504.58V552.95L487.25 553.15V504.68L487.75 500.54V553.1L488.25 554.44V505.16L488.75 504.05V552.69L489.25 552.24V505.82L489.75 504.78V552.8L490.25 553V504.67L490.75 483.04V553.73L491.25 559.88V503.8L491.75 502.68V553.03L492.25 553.14V503.03L492.75 491.04V552.72L493.25 552.42V502.19L493.75 502.28V553.95L494.25 553.62V483.84L494.75 501.5V553.2L495.25 554.5V501.65L495.75 502V551.9L496.25 553.1V501.11L496.75 502.28V552.37L497.25 552.7V500.44L497.75 496.04V552.98L498.25 553.16V500.3L498.75 499.05V552.49L499.25 556.36V500.02L499.75 445.04V553.07L500.25 554.63V445.04L500.75 497.51V552.42L501.25 552.03V497.48L501.75 493.54V550.17L502.25 548.25V496.6L502.75 497.63V548.34L503.25 547.86V496.83L503.75 493.04V548.79L504.25 549.81V497.07L504.75 497.45V551.34L505.25 552.58V476.04L505.75 497.71V552.44L506.25 555.33V497.83L506.75 497.85V552.95L507.25 553.01V473.24L507.75 473.24V552.95L508.25 557.35V499.27L508.75 498.73V556.84L509.25 552.4V479.04L509.75 499.12V553.12L510.25 553.6V500.15L510.75 479.04V553.33L511.25 551.84V500.43L511.75 501.02V549.68L512.25 548.49V500.43L512.75 501.46V547.58L513.25 549.86V500.74L513.75 495.54V548.14L514.25 550.26V495.54L514.75 501.22V550.88L515.25 553.11V501.03L515.75 501.67V553.33L516.25 557.06V501.88L516.75 502.08V553.07L517.25 553.06V502.18L517.75 475.24V553.19L518.25 561.96V475.24L518.75 503.97V561.96L519.25 553.34V503.75L519.75 502.54V553.11L520.25 552.97V504.12L520.75 504.47V552.07L521.25 555.25V504.89L521.75 503.82V550.64L522.25 550.46V503.86L522.75 502.57V551.37L523.25 551.94V502.1L523.75 502.53V552.5L524.25 552.95V498.24L524.75 498.24V552.43L525.25 555.96V505.3L525.75 504.76V552.86L526.25 553.24V501.37L526.75 499.74V553.26L527.25 552.93V487.04L527.75 487.04V555.58L528.25 553.25V487.04L528.75 499.42V553.15L529.25 550.85V499.73L529.75 499.91V548.42L530.25 545.11V499.84L530.75 500.53V544.33L531.25 544.98V499.89L531.75 462.24V545.66L532.25 548.22V500.84L532.75 500.45V550.66L533.25 552.43V499.96L533.75 501.91V553.09L534.25 552.94V499.82L534.75 457.24V551.79L535.25 552.82V457.24L535.75 500.79V552.71L536.25 552.98V472.04L536.75 500.14V552.85L537.25 552.65V500.78L537.75 479.04V553.33L538.25 552.74V500.25L538.75 500.75V553.05L539.25 552.19V500.04L539.75 501.86V555.47L540.25 549.81V502.82L540.75 502.81V549.4L541.25 549.12V495.54L541.75 503.63V551.06L542.25 550.96V505.23L542.75 484.84V552.16L543.25 552.9V505.63L543.75 507.61V554.27L544.25 553.12V507.62L544.75 506.87V552.83L545.25 557.56V506.89L545.75 507.18V552.69L546.25 553.76V506.76L546.75 462.04V553.25L547.25 552.92V505.9L547.75 505.25V553.16L548.25 551.72V505.37L548.75 504.4V553.69L549.25 549.8V504.38L549.75 498.04V549.54L550.25 552.03V505.37L550.75 504.83V550.67L551.25 551.25V504.69L551.75 505.18V552.22L552.25 552.82V475.04L552.75 505.36V553.34L553.25 552.83V505.24L553.75 462.04V553.62L554.25 552.31V462.04L554.75 506.32V553.19L555.25 557.96V505.36L555.75 481.54V557.96L556.25 555.72V506.56L556.75 506.07V550.48L557.25 549.21V506.05L557.75 484.84V550.74L558.25 549.4V506.06L558.75 506.24V549.42L559.25 557.88V507.96L559.75 506.86V552.39L560.25 552.8V507.24L560.75 506.25V554.42L561.25 552.91V505.82L561.75 506.31V552.45L562.25 553.04V482.04L562.75 504.56V553.23L563.25 561.96V473.84L563.75 473.84V561.96L564.25 552.57V502.95L564.75 501.87V554.61L565.25 550.69V501.81L565.75 479.54V548.68L566.25 545.73V479.54L566.75 500.18V545.35L567.25 549.3V488.04L567.75 498.2V547.18L568.25 548.85V497.56L568.75 498.62V555.55L569.25 552.9V497.79L569.75 499.35V553.14L570.25 552.17V491.04L570.75 500.14V552.96L571.25 552.52V500.55L571.75 500.17V552.67L572.25 553.11V465.24L572.75 502.07V553.15L573.25 553.09V502.49L573.75 476.04V557.55L574.25 552.54V503.68L574.75 504.83V551.87L575.25 552.46V504.71L575.75 505.49V551.94L576.25 558.47V479.84L576.75 504.98V552.12L577.25 552.8V505.77L577.75 496.04V553.15L578.25 552.79V507.23L578.75 508V553.24L579.25 553.34V508.27L579.75 508.25V553.32L580.25 552.92V508.85L580.75 507.94V557.63L581.25 552.99V507.96L581.75 508.05V553.31L582.25 553.16V499.04L582.75 499.04V552.46L583.25 552.28V508.92L583.75 509.33V550.96L584.25 550.42V508.08L584.75 508.22V549.79L585.25 550.32V489.04L585.75 489.04V550.48L586.25 551.46V507.41L586.75 507.18V552.59L587.25 552.76V507.37L587.75 506.83V554.64L588.25 552.71V507.58L588.75 505.84V554.51L589.25 553.12V493.54L589.75 505.02V553.12L590.25 557.56V504.63L590.75 503.92V552.4L591.25 553V489.04L591.75 489.04V553.01L592.25 552.95V504.36L592.75 502.17V554.98L593.25 553.27V503.15L593.75 492.04V551.63L594.25 551.94V503.18L594.75 503.65V551.28L595.25 550.77V478.24L595.75 478.24V551.22L596.25 552.39V503.14L596.75 503.49V553.01L597.25 553V503.57L597.75 504.29V552.42L598.25 552.99V504.85L598.75 463.04V552.56L599.25 552.71V463.04L599.75 505.95V555.93L600.25 554.96V466.04L600.75 505.75V556.01L601.25 554.64V504.72L601.75 505.1V552.45L602.25 552.58V484.54L602.75 505.26V553.01L603.25 552.06V504.96L603.75 499.04V551.25L604.25 549.53V506.16L604.75 505.55V548.38L605.25 549.07V505.59L605.75 506.33V549.63L606.25 555.48V506.44L606.75 506.03V551.37L607.25 552.84V506.81L607.75 482.04V553.12L608.25 553.22V506.86L608.75 506.13V553.09L609.25 553.27V505.44L609.75 478.54V552.27L610.25 552.52V506.19L610.75 476.54V552.98L611.25 559.56V505.2L611.75 506.57V559.56L612.25 552.41V495.04L612.75 505.57V550.89L613.25 552.17V505.99L613.75 505.27V548.41L614.25 549.48V505.96L614.75 505.47V549.44L615.25 551.21V505.25L615.75 505.82V553.31L616.25 553.3V491.24L616.75 491.24V553.33L617.25 552.97V504.42L617.75 504.83V553.04L618.25 556.96V504.7L618.75 504.93V552.69L619.25 552.99V505.24L619.75 504V552.81L620.25 552.4V503.04L620.75 503.04V551.04L621.25 548.41V503.73L621.75 503.68V548.84L622.25 549.24V503.94L622.75 503.56V549.54L623.25 551.09V505.48L623.75 498.84V551.36L624.25 553.22V498.84L624.75 503.35V553.06L625.25 552.8V479.04L625.75 496V553.04L626.25 558.08V495.86L626.75 496.61V553.32L627.25 553.11V496.76L627.75 471.24V553.8L628.25 558.67V471.24L628.75 498.47V552.8L629.25 552.92V498.35L629.75 476.54V552.23L630.25 551.71V498.98L630.75 500.17V550.4L631.25 551.11V475.24L631.75 500.31V549.71L632.25 552.25V492.04L632.75 500.97V553.55L633.25 557.83V500.86L633.75 501.25V553.08L634.25 554.72V502.24L634.75 502.74V553.06L635.25 553.1V501.7L635.75 502.48V559.56L636.25 559.56V502.31L636.75 502.79V552.65L637.25 553.31V503.26L637.75 470.24V553L638.25 552.63V470.24L638.75 506.05V552.3L639.25 551.31V505.69L639.75 488.04V550.96L640.25 551.09V504.54L640.75 486.54V551.46L641.25 552.11V505.24L641.75 506.13V553.06L642.25 553.21V499.04L642.75 506.61V553L643.25 553.25V507.44L643.75 506.77V553.5L644.25 554.24V507.54L644.75 508.42V560.36L645.25 560.36V509.06L645.75 508.06V552.85L646.25 552.76V507.14L646.75 507.14V553.05L647.25 552.77V486.54L647.75 486.54V552.92L648.25 553.1V504.96L648.75 502.83V553.28L649.25 553.08V501.8L649.75 502.44V552L650.25 551.77V496.04L650.75 499.64V550.62L651.25 551.29V498.15L651.75 497.88V551.2L652.25 554.82V497.77L652.75 498.99V553.05L653.25 553.01V490.54L653.75 500.02V553.11L654.25 554.13V500.04L654.75 482.04V552.68L655.25 553.21V500.45L655.75 502.35V557.56L656.25 559.96V502.69L656.75 477.54V559.96L657.25 552.2V477.54L657.75 503.93V553.2L658.25 551.42V503.25L658.75 491.54V551.66L659.25 550.68V504.25L659.75 504.22V550.01L660.25 550.36V501.04L660.75 505.37V549.77L661.25 551.24V505.51L661.75 506.07V552.26L662.25 552.64V506.98L662.75 506.8V553.18L663.25 553.29V499.04L663.75 467.24V554.09L664.25 552.3V505.4L664.75 505.3V552.52L665.25 553.24V504.5L665.75 471.04V554.18L666.25 554.63V504.2L666.75 503.99V552.85L667.25 552.27V503.96L667.75 504.73V552.22L668.25 551.68V497.54L668.75 502.9V550.82L669.25 551.14V503.1L669.75 504.56V552.12L670.25 552.61V502.95L670.75 496.04V552.65L671.25 552.81V503.29L671.75 503.84V552.8L672.25 552.88V479.84L672.75 504.48V554.96L673.25 553.05V505.43L673.75 506.29V552.94L674.25 554.96V463.84L674.75 463.84V554.92L675.25 553.18V504.65L675.75 504.75V553.33L676.25 554.35V504.5L676.75 505.55V551.92L677.25 551.09V504.67L677.75 504.44V551.04L678.25 551.91V500.24L678.75 504.36V551.58L679.25 552.41V505.08L679.75 504.32V552.96L680.25 552.24V505L680.75 504.37V553.24L681.25 552.98V505.34L681.75 484.04V552.77L682.25 558.02V504.53L682.75 504.97V553.29L683.25 552.77V453.84L683.75 453.84V552.53L684.25 552.22V506.35L684.75 506.74V553.69L685.25 553.95V506.64L685.75 499.04V551.21L686.25 550.32V505.39L686.75 506.19V550.04L687.25 549.54V506.37L687.75 505.85V550.31L688.25 550.93V505.71L688.75 506.35V552.58L689.25 553.2V506.01L689.75 506.1V553.05L690.25 553.27V505.61L690.75 475.84V552.52L691.25 557.96V475.84L691.75 504.53V557.96L692.25 552.74V504.89L692.75 504.35V553.09L693.25 552.76V504.47L693.75 494.24V552.44L694.25 552.18V494.24L694.75 504.34V553.07L695.25 550.98V504.77L695.75 503.2V550.5L696.25 551.08V501.04L696.75 502.99V551.29L697.25 552.01V503.96L697.75 502.45V552.86L698.25 553.23V502.87L698.75 504.03V553.02L699.25 552.64V497.54L699.75 503.43V553.09L700.25 552.6V504.66L700.75 504.05V552.71L701.25 556.96V503.96L701.75 485.84V554.97L702.25 551.88V485.84L702.75 506.94V550.3L703.25 548.83V503.04L703.75 505.19V548.1L704.25 548.67V507.07L704.75 505.73V548.77L705.25 549.22V505.92L705.75 505.04V551.78L706.25 553.25V498.04L706.75 504.87V552.8L707.25 553.22V482.04L707.75 504.14V552.71L708.25 552.94V453.04L708.75 502.03V553.96L709.25 552.42V451.24L709.75 503.47V552.66L710.25 552.18V500.65L710.75 470.24V552.6L711.25 552.29V500.15L711.75 499.46V550.85L712.25 549.51V499.35L712.75 479.04V550.43L713.25 548.44V499.58L713.75 497.93V549.38L714.25 550.36V497.48L714.75 495.84V553.3L715.25 552.93V496.78L715.75 497.12V552.85L716.25 553.24V496.78L716.75 498.17V552.85L717.25 552.23V473.24L717.75 473.24V553.21L718.25 554.96V498.79L718.75 498.1V557.29L719.25 551.97V491.04L719.75 500.17V552.45L720.25 553.09V500.66L720.75 477.04V552.92L721.25 552.66V477.04L721.75 501.27V551.45L722.25 550.67V501.67L722.75 500.78V550.15L723.25 549.45V499.07L723.75 491.04V550.32L724.25 553.62V497.25L724.75 488.54V554.18L725.25 552.97V495.51L725.75 482.62V552.79L726.25 552.33V456.24L726.75 456.24V553.07L727.25 552.24V488.84L727.75 489.17V556.57L728.25 557.15V491.07L728.75 465.04V558.36L729.25 558.36V493.97L729.75 463.04V552.42L730.25 553.09V498.41L730.75 499.9V552.77L731.25 551.82V500.56L731.75 487.04V551.16L732.25 551.22V504.73L732.75 506.13V552.24L733.25 552.33V505.79L733.75 505.4V553.16L734.25 552.99V505.4L734.75 504.94V553.26L735.25 552.86V504.85L735.75 484.04V552.76L736.25 552.94V504.75L736.75 478.04V552.64L737.25 555.56V504.5L737.75 504.08V553.24L738.25 553.33V505.42L738.75 459.54V553.34L739.25 552.99V459.54L739.75 503.95V550.63L740.25 549.1V503.2L740.75 476.04V544.77L741.25 545.1V503.94L741.75 503.06V544.4L742.25 544.61V502.26L742.75 484.54V547.32L743.25 550.37V502.03L743.75 502.86V552.47L744.25 553.3V473.54L744.75 501.02V553.16L745.25 553.32V501.38L745.75 468.54V553.07L746.25 553.32V468.54L746.75 500.22V553.16L747.25 560.49V501.34L747.75 479.54V552.89L748.25 553.04V500.84L748.75 499.89V552.09L749.25 551.5V499.15L749.75 499.68V551.63L750.25 550.65V499.94L750.75 499.14V551.45L751.25 551.84V494.54L751.75 498.47V553.04L752.25 552.99V498.04L752.75 498.77V552.5L753.25 553.1V465.24L753.75 465.24V553.01L754.25 553.33V497.47L754.75 498.76V553.26L755.25 552.87V498.14L755.75 497.15V552.71L756.25 553.3V497.04L756.75 495.09V561.56L757.25 561.56V494.93L757.75 494.51V550.92L758.25 549.66V493.77L758.75 475.24V549.14L759.25 549.28V475.24L759.75 493.92V549.98L760.25 551.13V492.85L760.75 494.25V552.08L761.25 552.93V490.54L761.75 494.97V553.28L762.25 555.81V495.84L762.75 447.54V552.61L763.25 552.84V447.54L763.75 498.47V552.54L764.25 553.06V499.51L764.75 465.24V553.08L765.25 553.07V502.47L765.75 473.54V552.65L766.25 553.22V504L766.75 503.19V553.24L767.25 552.22V503.6L767.75 505.81V552.49L768.25 549.99V503.04L768.75 504.48V549.23L769.25 549.16V504.86L769.75 504.93V549.88L770.25 551.07V505.97L770.75 506.74V551.35L771.25 553.11V505.87L771.75 505.55V553.01L772.25 552.95V505.12L772.75 504.09V552.4L773.25 560.41V462.54L773.75 462.54V552.84L774.25 553.31V504.32L774.75 482.04V554.97L775.25 553.23V502.06L775.75 503.13V553.2L776.25 553.03V500.04L776.75 501.17V552.42L777.25 551.57V500.6L777.75 500.67V550.9L778.25 550.89V491.54L778.75 491.54V551.69L779.25 551.84V501.14L779.75 499.76V552.91L780.25 555.34V499.64L780.75 498.74V552.18L781.25 558.96V484.04L781.75 498.84V558.96L782.25 552.81V483.04L782.75 497.26V553.16L783.25 553.09V497.72L783.75 465.24V552.59L784.25 553.76V465.24L784.75 497.68V552.55L785.25 553.01V495.55L785.75 474.04V552.66L786.25 552.62V495.63L786.75 495.7V550L787.25 545.82V492.04L787.75 494.97V543.9L788.25 543.48V496.46L788.75 496.22V543.9L789.25 545.14V491.04L789.75 498.45V548.13L790.25 550.71V499.35L790.75 469.04V552.04L791.25 552.86V500.19L791.75 501.16V552.81L792.25 557.14V501.65L792.75 465.84V552.82L793.25 555.56V465.84L793.75 504.04V552.95L794.25 552.87V505.31L794.75 495.54V552.96L795.25 552.12V506.2L795.75 508.22V553.18L796.25 550.82V507.29L796.75 507.23V549.73L797.25 551.55V507.78L797.75 508.34V550.56L798.25 551.38V507.2L798.75 471.24V552.98L799.25 552.75V471.24L799.75 506.51V553.05L800.25 553.17V507.29L800.75 506.43V552.83L801.25 554.8V501.04L801.75 506.66V562.96L802.25 562.96V506.11L802.75 507.09V552.5L803.25 553.33V507.12L803.75 507.42V551.36L804.25 553.18V508.86L804.75 495.84V552.66L805.25 551.66V495.84L805.75 510.2V552.14L806.25 552.13V510.67L806.75 510.07V552.7L807.25 551.77V510.4L807.75 491.04V553.81L808.25 553.1V508.57L808.75 508.31V552.43L809.25 556.96V508.07L809.75 467.54V552.78L810.25 552.69V467.54L810.75 507.19V553.85L811.25 553.27V506.22L811.75 468.24V553.14L812.25 552.48V468.24L812.75 505.91V553.01L813.25 549.5V504.22L813.75 504.25V550.97L814.25 548.66V497.54L814.75 503.25V550.03L815.25 550.04V502.68L815.75 503.83V552.09L816.25 553V502.25L816.75 502.26V552.96L817.25 552.42V473.54L817.75 473.54V553.02L818.25 553.38V501.95L818.75 501.38V553.26L819.25 551.93V501.69L819.75 462.04V552.49L820.25 557.56V502.32L820.75 501.09V556.58L821.25 557.89V474.04L821.75 502.22V553.25L822.25 555.87V501.69L822.75 491.04V551.05L823.25 548.81V501.64L823.75 500.75V546.52L824.25 546.55V501.6L824.75 499.04V549.6L825.25 547.72V499.84L825.75 500.14V548.84L826.25 551.67V499.21L826.75 473.04V554.2L827.25 561.56V499.33L827.75 498.46V561.56L828.25 552.94V498.21L828.75 454.54V552.66L829.25 557.73V454.54L829.75 497.65V553.07L830.25 557.68V497.8L830.75 498.98V551.73L831.25 552.19V497.89L831.75 473.54V551.15L832.25 550.76V473.54L832.75 497.81V550.38L833.25 548.74V497.65L833.75 487.04V550.26L834.25 551.58V496.3L834.75 495.54V552.8L835.25 551.82V499.52L835.75 499.7V552.71L836.25 559.56V502.16L836.75 482.54V559.56L837.25 553.04V482.54L837.75 506.97V555.23L838.25 552.8V506.39L838.75 507.6V552.73L839.25 553.27V506.1L839.75 504.95V555.79L840.25 552.72V500.04L840.75 504.75V553.15L841.25 552.6V502.78L841.75 502.66V551.54L842.25 551.72V502.63L842.75 503.55V550.24L843.25 553V485.04L843.75 503.63V551.22L844.25 554.04V503.15L844.75 504.02V556.96L845.25 553V483.04L845.75 504.11V558.2L846.25 552.59V504.2L846.75 476.24V553.26L847.25 554.96V476.24L847.75 505.99V555.59L848.25 552.66V505.25L848.75 479.04V553.13L849.25 557.98V504.95L849.75 505.86V552.88L850.25 553.3V505.33L850.75 505.64V555.59L851.25 553.03V506.12L851.75 497.04V551.86L852.25 551.4V505.32L852.75 504.02V552.55L853.25 554.43V504.76L853.75 504.96V552.62L854.25 553V487.04L854.75 487.04V555.85L855.25 555.96V503.59L855.75 503.08V552.73L856.25 553.24V503.55L856.75 502.81V552.45L857.25 556.62V498.04L857.75 503.56V552.96L858.25 552.15V503.83L858.75 502.87V550.46L859.25 549.17V502.01L859.75 504.15V548.72L860.25 548.49V502.25L860.75 501.72V549.24L861.25 550.5V503.86L861.75 491.04V551.76L862.25 556.96V501.19L862.75 501V552.39L863.25 552.64V483.54L863.75 500.68V552.77L864.25 556.36V500.84L864.75 500.03V552.27L865.25 552.85V483.04L865.75 500.86V552.37L866.25 551.91V499.14L866.75 482.04V555.02L867.25 556.44V498.69L867.75 499.69V552.98L868.25 552.04V500.35L868.75 488.54V550.21L869.25 549.08V498.06L869.75 498.12V548.78L870.25 548.7V497.4L870.75 497.71V547.99L871.25 550.53V498.44L871.75 477.04V551.15L872.25 553.27V499.62L872.75 500.26V552.98L873.25 552.21V500.47L873.75 449.24V552.75L874.25 552.31V449.24L874.75 503.07V552.4L875.25 557.95V502.57L875.75 503.48V552.73L876.25 552.63V485.54L876.75 504.41V551.24L877.25 550.42V503.96L877.75 503.99V549.66L878.25 549V504.03L878.75 503.9V549.53L879.25 551.47V503.7L879.75 503.78V552.04L880.25 552.8V504.53L880.75 502.98V555.83L881.25 552.28V487.04L881.75 502.58V552.85L882.25 554.96V502.66L882.75 468.54V552.01L883.25 553.07V468.54L883.75 502.3V553.15L884.25 554.89V502.02L884.75 501.57V553.23L885.25 552.63V476.04L885.75 476.04V552.2L886.25 551.16V501.41L886.75 501.04V550.82L887.25 551.93V501.3L887.75 500.96V551.42L888.25 551.96V501.85L888.75 498.04V552.66L889.25 553.13V502.08L889.75 501.64V553.17L890.25 562.96V501.58L890.75 464.24V562.96L891.25 555.36V464.24L891.75 464.24V552.89L892.25 552.5V501.94L892.75 501.63V553.24L893.25 553.17V501.11L893.75 487.04V552.98L894.25 553.36V501.25L894.75 502.65V553.14L895.25 550.94V500.63L895.75 499.79V553.18L896.25 549.37V484.84L896.75 499.02V548.72L897.25 548.17V499L897.75 496.04V549.36L898.25 550.2V496.63L898.75 496.43V551.59L899.25 554.96V480.04L900 480.04V553.22"/>
<path class="tk" d="M125.5 571.5v5M171.5 571.5v5M262.5 571.5v5M354.5 571.5v5M445.5 571.5v5M536.5 571.5v5M627.5 571.5v5M718.5 571.5v5M810.5 571.5v5M900.5 571.5v5M125.5 447.5h-5M125.5 484.5h-5M125.5 522.5h-5M125.5 560.5h-5"/>
<path class="tkm" d="M217.5 571.5v2.92M308.5 571.5v2.92M399.5 571.5v2.92M490.5 571.5v2.92M582.5 571.5v2.92M673.5 571.5v2.92M764.5 571.5v2.92M855.5 571.5v2.92"/>
<text class="t" text-anchor="middle" x="171.03" y="592">2020</text>
<text class="t" text-anchor="middle" x="262.26" y="592">2030</text>
<text class="t" text-anchor="middle" x="353.5" y="592">2040</text>
<text class="t" text-anchor="middle" x="444.74" y="592">2050</text>
<text class="t" text-anchor="middle" x="535.98" y="592">2060</text>
<text class="t" text-anchor="middle" x="627.22" y="592">2070</text>
<text class="t" text-anchor="middle" x="718.46" y="592">2080</text>
<text class="t" text-anchor="middle" x="809.7" y="592">2090</text>
<text class="t" text-anchor="end" x="115.28" y="452">80</text>
<text class="t" text-anchor="end" x="115.28" y="490">60</text>
<text class="t" text-anchor="end" x="115.28" y="528">40</text>
<text class="t" text-anchor="end" x="115.28" y="565">20</text>
<text class="t" text-anchor="middle" transform="translate(88.2 506.36) rotate(-90)">fieldmax</text>
<rect class="ax" x="125.5" y="439.5" width="775" height="132"/>
</g>
<g id="ax3">
<path class="ln" clip-path="url(#c3)" d="M125 664H900"/>
<path class="tk" d="M125.5 731.5v5M171.5 731.5v5M262.5 731.5v5M354.5 731.5v5M445.5 731.5v5M536.5 731.5v5M627.5 731.5v5M718.5 731.5v5M810.5 731.5v5M900.5 731.5v5M125.5 604.5h-5M125.5 664.5h-5M125.5 725.5h-5"/>
<path class="tkm" d="M217.5 731.5v2.92M308.5 731.5v2.92M399.5 731.5v2.92M490.5 731.5v2.92M582.5 731.5v2.92M673.5 731.5v2.92M764.5 731.5v2.92M855.5 731.5v2.92"/>
<text class="t" text-anchor="middle" x="171.03" y="751">2020</text>
<text class="t" text-anchor="middle" x="262.26" y="751">2030</text>
<text class="t" text-anchor="middle" x="353.5" y="751">2040</text>
<text class="t" text-anchor="middle" x="444.74" y="751">2050</text>
<text class="t" text-anchor="middle" x="535.98" y="751">2060</text>
<text class="t" text-anchor="middle" x="627.22" y="751">2070</text>
<text class="t" text-anchor="middle" x="718.46" y="751">2080</text>
<text class="t" text-anchor="middle" x="809.7" y="751">2090</text>
<text class="t" text-anchor="end" x="115.28" y="609">0.05</text>
<text class="t" text-anchor="end" x="115.28" y="670">0.00</text>
<text class="t" text-anchor="end" x="115.28" y="730">−0.05</text>
<text class="t" text-anchor="middle" letter-spacing="-0.15" transform="translate(64.4 667.16) rotate(-90)">nummasked</text>
<rect class="ax" x="125.5" y="598.5" width="775" height="133"/>
</g>
<g id="ax4">
<path class="ln" clip-path="url(#c4)" d="M125 824H900"/>
<path class="tk" d="M125.5 890.5v5M171.5 890.5v5M262.5 890.5v5M354.5 890.5v5M445.5 890.5v5M536.5 890.5v5M627.5 890.5v5M718.5 890.5v5M810.5 890.5v5M900.5 890.5v5M125.5 763.5h-5M125.5 824.5h-5M125.5 884.5h-5"/>
<path class="tkm" d="M217.5 890.5v2.92M308.5 890.5v2.92M399.5 890.5v2.92M490.5 890.5v2.92M582.5 890.5v2.92M673.5 890.5v2.92M764.5 890.5v2.92M855.5 890.5v2.92"/>
<text class="t" text-anchor="middle" x="171.03" y="911">2020</text>
<text class="t" text-anchor="middle" x="262.26" y="911">2030</text>
<text class="t" text-anchor="middle" x="353.5" y="911">2040</text>
<text class="t" text-anchor="middle" x="444.74" y="911">2050</text>
<text class="t" text-anchor="middle" x="535.98" y="911">2060</text>
<text class="t" text-anchor="middle" x="627.22" y="911">2070</text>
<text class="t" text-anchor="middle" x="718.46" y="911">2080</text>
<text class="t" text-anchor="middle" x="809.7" y="911">2090</text>
<text class="t" text-anchor="end" x="115.28" y="769">0.05</text>
<text class="t" text-anchor="end" x="115.28" y="829">0.00</text>
<text class="t" text-anchor="end" x="115.28" y="889">−0.05</text>
<text class="t" text-anchor="middle" letter-spacing="-0.2" transform="translate(64.4 826.02) rotate(-90)">numnan</text>
<rect class="ax" x="125.5" y="757.5" width="775" height="133"/>
</g>
<text class="ti" x="300" y="112" letter-spacing="0.033">ua925, lev=0, 20141216T0000 to 20991124T1800</text>
<text class="t" text-anchor="middle" letter-spacing="-0.07" x="511.6" y="930">validtime</text>
</svg>
</body></html>
